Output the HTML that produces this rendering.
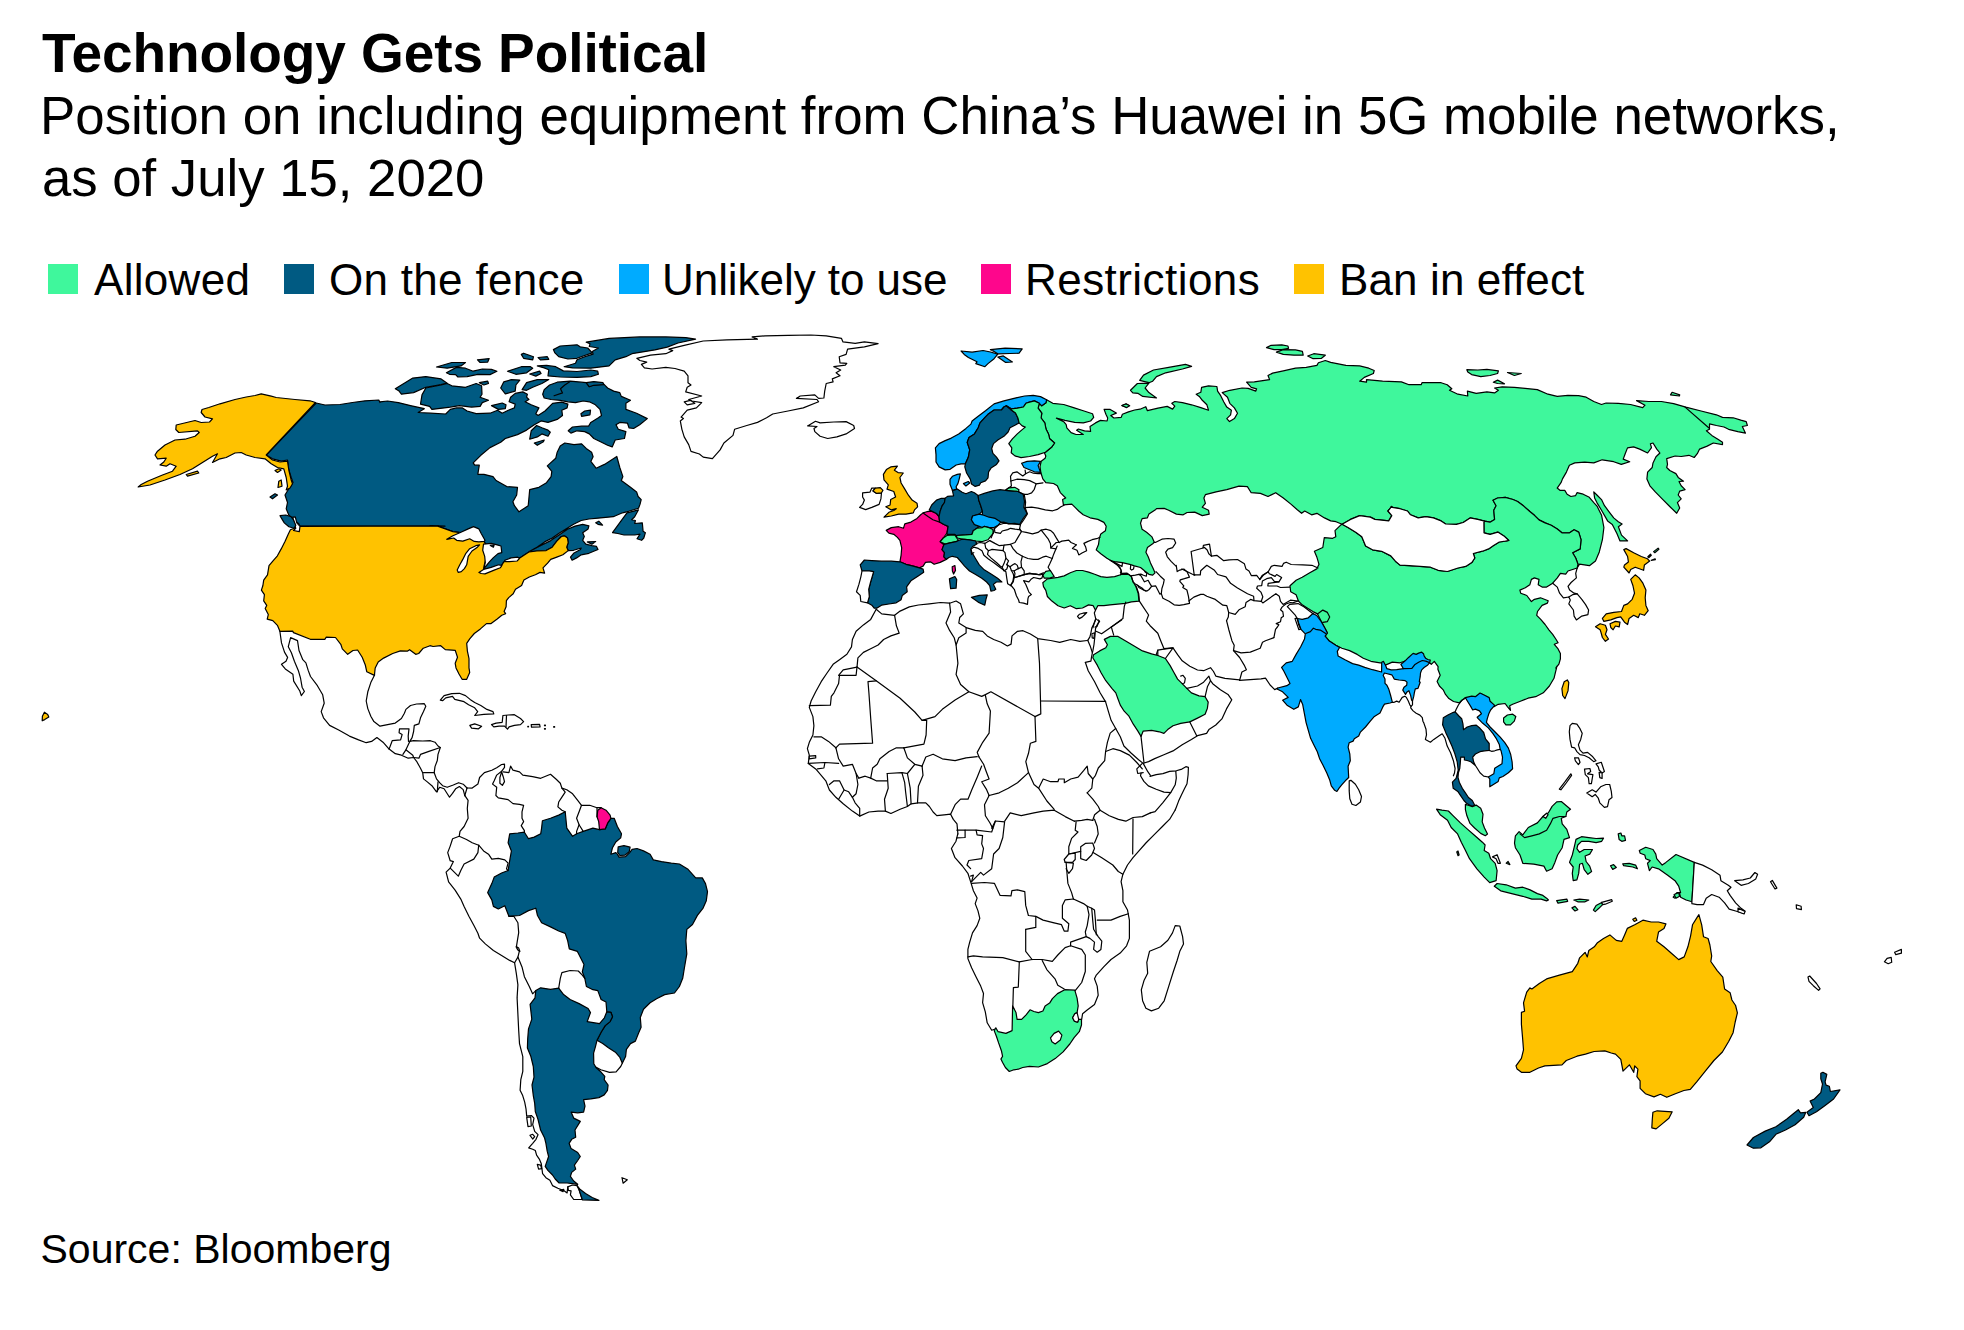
<!DOCTYPE html>
<html><head><meta charset="utf-8">
<style>
html,body{margin:0;padding:0;background:#fff;}
body{width:1964px;height:1330px;position:relative;overflow:hidden;font-family:"Liberation Sans",Arial,Helvetica,sans-serif;color:#000;}
.t{position:absolute;white-space:nowrap;line-height:1;}
#title{left:42px;top:26px;font-size:55px;font-weight:bold;letter-spacing:-0.08px;}
#sub1{left:40px;top:90px;font-size:52.85px;}
#sub2{left:42px;top:152px;font-size:52.7px;}
.lg{top:258px;font-size:44px;}
.sq{position:absolute;top:264px;width:30px;height:30px;}
#src{left:40.5px;top:1229px;font-size:41px;}
#map{position:absolute;left:0;top:0;}
</style></head><body>
<div class="t" id="title">Technology Gets Political</div>
<div class="t" id="sub1">Position on including equipment from China’s Huawei in 5G mobile networks,</div>
<div class="t" id="sub2">as of July 15, 2020</div>
<div class="sq" style="left:48px;background:#3ff79c"></div><div class="t lg" style="left:94px;letter-spacing:0.3px">Allowed</div>
<div class="sq" style="left:284px;background:#005a82"></div><div class="t lg" style="left:329px;letter-spacing:0.3px">On the fence</div>
<div class="sq" style="left:618.5px;background:#00abff"></div><div class="t lg" style="left:662px;letter-spacing:-0.05px">Unlikely to use</div>
<div class="sq" style="left:981px;background:#fe068c"></div><div class="t lg" style="left:1025px;letter-spacing:0.45px">Restrictions</div>
<div class="sq" style="left:1294px;background:#ffc200"></div><div class="t lg" style="left:1339px;letter-spacing:0.12px">Ban in effect</div>
<svg id="map" width="1964" height="1330" viewBox="0 0 1964 1330">
<!--MAP-->
<g stroke="#000" stroke-width="1.2" stroke-linejoin="round" stroke-linecap="round">
<!-- 01_namerica.txt -->
<path d="M316.2,403 325,405 340,404.5 352.5,402.5 365,400.8 378.8,400 380,402.5 380,401.8 387.6,401 398.3,402.6 410.5,405.6 424.3,408.7 418.2,412.5 430.4,413.2 445.7,414 450.3,409.4 456.4,407.9 462.5,407.9 467.1,411 476.2,413.7 490,413.2 497.6,410.2 502.2,413.2 508.3,410.2 514.4,407.9 515.2,404.1 509.1,401.8 510.6,397.2 515.2,393.4 522.8,391.9 527.4,394.2 526.6,397.2 528.9,399.5 525.1,401.8 531.2,404.8 538.9,407.9 535.8,413.7 538.1,415.5 545,411 549.6,406.4 552.6,403.3 561.8,402.1 567.9,404.1 567.1,407.9 561.8,410.2 562.5,415.5 557.2,419.4 548,422.4 541.1,420.9 534.3,424.7 526.6,430.1 517.5,434.6 505.3,438.5 500.7,442.3 490,447.6 480.8,455.3 473.2,462.9 474.7,465.2 479.3,465.2 477.8,474.3 483.9,474.3 493,476.6 496.1,480.5 506.8,486.6 517.5,487.3 516.7,495 512.9,501.8 514.4,505.7 519,511.8 528.2,505.7 529.7,489.6 538.9,487.3 546.5,482.7 551.1,476.6 551.8,471.3 547.3,465.9 555.7,458.3 557.2,452.2 560.2,446.1 564.8,443 574,444.6 581.6,443.8 586.2,448.4 591.6,452.2 593.1,456.8 590.8,461.4 596.1,468.2 604.5,464.4 616.8,456.5 619.8,467.5 622.9,476.6 621.3,480.5 630.5,487.3 636.6,491.9 638.1,496.5 641.2,499.6 640,504.4 638.5,508.3 628.6,511.3 622.5,512.8 613.3,516.7 598,518.2 588.9,519 581.2,520.5 573.6,524.3 565.9,528.9 559.8,532.7 552.2,538 544.6,541.9 536.9,547.2 529.3,551.5 540,546 550.7,540.6 559.8,534.5 567.5,529.2 575.1,526.1 582.7,524.3 588.9,525.8 588.1,528.9 582.7,532.7 584.3,536.5 582.7,540.3 585.8,544.2 591.9,545.7 596.5,546.4 598,549.5 588.9,553.3 581.2,554.8 576.6,557.9 572.1,560.2 570.5,557.1 573.6,553.3 580.5,549.5 581.2,548 573.6,550.3 568.2,550.6 566.7,547.2 568.2,542.6 567.5,538 564.4,535.8 561.4,536.5 556.8,541.1 552.2,547.2 546.1,550.6 536.9,551 529.3,551.8 524.7,554.8 519.4,558.2 512.5,559.7 504.8,561 503,563.2 501,566.3 491.1,570.1 483.8,568.9 484.2,565.5 486.5,556.4 488,547.2 484.7,542.6 483.5,540.3 472.8,535 460.5,532.7 452.9,531.6 445.3,528.9 437.6,526.1 430,525.5 445,526.2 300,526.2 298.8,523.8 293.8,520 288.8,515 286.2,508.8 287.5,502.5 285,495 288.8,488.8 293,482.5 291.2,477.5 288.8,470 287.5,460 281.2,461.2 272.5,458.8 266.2,455Z" fill="#005a82"/>
<path d="M290.4,529.8 299.6,526.3 438.6,526 437.6,526.1 445.3,528.9 452.9,531.6 460.5,532.7 472.8,535 483.5,540.3 484.7,542.6 488,547.2 486.5,556.4 484.2,565.5 483.8,568.9 491.1,570.1 501,566.3 503,563.2 504.8,561 512.5,559.7 519.4,558.2 524.7,554.8 529.3,551.8 536.9,551 546.1,550.6 552.2,547.2 556.8,541.1 561.4,536.5 564.4,535.8 567.5,538 568.2,542.6 566.7,547.2 568.2,550.6 562.9,554.8 556.8,557.1 550.7,559.4 547.6,563.2 543,567.8 544.6,573.2 540,572.4 535.4,574.7 529.3,577 523.9,580.1 521.6,585.4 515.5,589.2 513.2,593.8 508.7,597.6 506.4,600.7 506.1,606.8 504.1,611.4 505.6,613.7 501.8,615.2 497.2,619 491.1,623.6 486.5,623.6 480.4,628.9 474.3,633.5 469.7,638.9 466.7,643.4 467.4,651.1 469,658.7 469,667.9 469.7,672.5 466.7,679.3 462.1,679.3 459,674 456,667.9 455.2,663.3 457.5,657.2 455.2,650.3 445.3,649.6 440.7,645.7 433.1,646.5 430,645.7 423.3,648.2 418.7,653.5 415.7,654.3 409.6,649.7 407.3,651.2 400.4,650.9 392.7,653.5 383.6,658.1 378.2,661.9 375.2,668 374.4,675.4 366.8,671.8 365.3,665 362.2,657.3 357.6,650 353,650.5 347.7,654.3 342.3,648.9 340.8,644.3 335.5,637.5 326.3,637.2 324.8,639.3 310.3,639.3 293.5,632.6 292.7,631.1 280,631.4 277.4,625.3 272.8,620.7 267.2,619.1 268.3,614.6 265.2,608.5 266.7,605.4 263.7,600.8 264.4,594.7 261.4,590.1 262.9,585.5 263.7,580.2 267.5,574.8 269,565.7 272.8,561.1 277.4,555.8 281.2,548.9 285.1,541.2 288.1,534.4Z" fill="#ffc200"/>
<path d="M446.8,539.3 452.9,535.8 459.8,532.7 468.2,528.9 473.5,526.6 478.9,528.9 481.2,533.5 485,540.3 484.2,541.4 478.9,541.9 474.3,541.4 469.7,538.8 462.8,541.1 456.7,540.3 453.7,538Z" fill="#ffffff"/>
<path d="M479.6,544.9 475.8,545.7 469.7,548.7 465.9,553.3 462.8,559.4 459.8,564.8 457.2,570.1 458.3,572.4 461.3,571.6 464.4,568.6 466.7,564.8 468.2,556.4 472,551 477.4,547.2Z" fill="#ffffff"/>
<path d="M483.5,544.2 491.1,543.4 497.2,544.9 501,546 501.8,552.6 498,553.6 493.4,557.6 489.6,561.7 486.5,565.5 483.8,568.6 485.3,562.5 484.7,556.4 482.7,550.3Z" fill="#ffffff"/>
<path d="M490.3,545.4 494.2,544.9 493.4,547.2Z" fill="#005a82"/>
<path d="M478.9,572.4 483.5,569.4 491.1,567.4 498.7,564.8 501.8,565.5 500.3,567.8 494.2,570.1 485,573.9 481.2,573.5Z" fill="#ffffff"/>
<path d="M504.8,560.2 511,557.9 517.8,557.1 519.4,558.7 517.1,561 509.4,561.7 505.6,561.7Z" fill="#ffffff"/>
<path d="M587.3,541.9 595.7,541.6 591.9,544.2Z" fill="#005a82"/>
<path d="M595.7,522.8 598.8,521.2 602.6,525.1 598,524.3Z" fill="#005a82"/>
<path d="M612.5,532.7 620.9,521.2 627,512.8 638.5,509.8 634.7,516.7 631.6,519.7 635.4,520.5 634.7,523.5 642.3,522.8 643.1,531.2 645.4,532.7 643.8,538 641.6,540.3 637,538.8 640,534.2 634.7,535 624,535 617.9,533.5Z" fill="#005a82"/>
<path d="M292.7,517.1 295.3,516.8 296.8,522.9 300,526.3 299.3,531.6 293.5,530.5 295.8,528.3 294.2,522.9Z" fill="#ffffff"/>
<path d="M280,515.7 285.8,515 291.2,516.8 293.5,519.9 295.8,525.2 294.2,528.3 288.9,526.7 284.3,522.9 282,519.1Z" fill="#005a82"/>
<path d="M315.5,402.5 310,400.8 295,399.5 276.2,397.5 271.2,396.2 261.2,393.8 255,395.5 246.2,397 235,399.5 220,403.8 208.8,407.5 202,409.5 201.2,412.5 205,417 212.5,418.8 209.5,422 201.2,422.5 195,420.5 176.2,425 175.8,429.5 178.8,432.5 197.5,430.8 199.2,432.5 195,436.2 185,439.2 175,440 165,445 157.5,451.2 155,455 157.5,458.8 166.2,458.2 163.8,462 160,465 166.2,466.2 170,463.8 176.2,466.2 172.5,471.2 162.5,475 147.5,481.2 141.2,484.5 138.2,487 150,485 165,480 180,474.5 192.5,468.8 202.5,462.5 212.5,456.2 217.5,453.8 212.5,462.5 220,458.8 226.2,457.5 235,453 241.2,452.5 246.2,455 255,457.5 265,458.8 271.2,463.8 277.5,467.5 283.8,468.8 286.2,477.5 287.5,486.2 286.2,490 290,488 292.5,483.8 291.2,480 288.8,470 287.5,461.2 280,462 272.5,460 266.2,455Z" fill="#ffc200"/>
<path d="M186.2,474.5 197.5,471.2 198.8,473 187.5,476.2Z" fill="#ffc200"/>
<path d="M275,470.5 278.8,468.8 281.2,470 277.5,472.5Z" fill="#ffc200"/>
<path d="M278.8,481.2 281.2,480 282,486.2 278,487.5Z" fill="#ffc200"/>
<path d="M270,497 275,493.8 277.5,495 272.5,498.8Z" fill="#005a82"/>
<path d="M395.3,388.8 412.8,378.1 425.8,376.6 441.1,378.9 447.2,383.2 441.1,384.7 425.8,387.3 413.6,392.6 401.4,394.2 399.1,391.1Z" fill="#005a82"/>
<path d="M422,394.9 425.8,388 441.1,385 447.2,383.5 451.8,385.8 465.5,387.3 476.2,383.5 481.6,385.8 482,394.2 480.1,397.2 488.5,400.3 482.3,402.6 480.1,406.4 471.6,407.1 459.4,405.6 450.3,407.1 444.2,407.9 431.9,409.4 429.6,406.4 420.5,404.1Z" fill="#005a82"/>
<path d="M436.5,367 451.8,362.5 465.5,362.5 461,365.9 447.2,368.2Z" fill="#005a82"/>
<path d="M446.4,372.8 456.4,367.4 465.5,368.2 473.2,371.2 482.3,369 491.5,369.4 496.9,371.2 490,374.6 477.8,374.3 467.1,376.6 457.9,377 455.6,374.6 449.5,374.3Z" fill="#005a82"/>
<path d="M477.5,359.8 489.2,358.6 487.7,362.1 480.1,362.5Z" fill="#005a82"/>
<path d="M479.3,382.7 487.7,381.2 488.5,383.5 483.9,385Z" fill="#005a82"/>
<path d="M507.5,371.2 521.3,366.7 530.5,366.7 532.7,368.2 526.6,372.8 515.9,374.3Z" fill="#005a82"/>
<path d="M521.3,354.4 523.6,353.2 533.5,356.7 532.7,359.8 523.6,358.3Z" fill="#005a82"/>
<path d="M538.1,357.5 547.3,356.7 548.8,359.3 540.4,359.8Z" fill="#005a82"/>
<path d="M529.7,374 539.6,371.2 541.1,373.5 535.8,376.1Z" fill="#005a82"/>
<path d="M537.3,365.9 546.5,365.4 555.7,366.7 563.3,370.9 577,371.5 590.8,370 597.7,371.2 598.4,374.3 590.8,376.6 577,377.4 560.2,377 548,375.8 548.8,369.7 544.2,367.9Z" fill="#005a82"/>
<path d="M553.4,349.6 560.2,346 577,344.8 580.1,346.8 587.7,348 592.3,352.9 583.2,356 577,358.3 567.9,359 558.7,356.7 554.9,352.9Z" fill="#005a82"/>
<path d="M586.2,342.2 609.1,338.4 639.7,336.9 665.8,336.9 685.7,337.6 695.6,339.2 678,343 667.2,347.1 654.9,349.9 632,353.7 625.9,356.7 615.2,359.8 609.1,365.9 590.8,368.2 572.5,367.9 564.1,366.7 575.5,363.3 577,359.8 584.7,356.7 593.1,354.1 592.3,351.4 598.4,348 589.3,346.5 590,343.7Z" fill="#005a82"/>
<path d="M500.7,388 503.7,381.9 511.4,379.6 519.8,380.1 515.9,385 515.2,391.1 505.3,393.8Z" fill="#005a82"/>
<path d="M522.1,389.6 526.6,382.7 537.3,379.6 548.8,379.6 541.9,383.5 532.7,387.3 526.6,390.3Z" fill="#005a82"/>
<path d="M491.5,405.6 502.2,403 506,404.8 505.3,408.7 498.4,409.4Z" fill="#005a82"/>
<path d="M542.7,394.2 544.2,389.6 549.6,385 557.2,382.2 570.2,381.2 578.6,381.9 586.2,382.7 589.3,386.5 593.8,385 603.8,384.2 607.6,388 613.7,391.1 619.8,392.6 621.3,396.4 630.5,400.3 625.9,403.3 625.9,409.4 636.6,413.2 647.3,418.6 639.7,424.7 633.6,428.5 629,427.8 627.5,423.2 619.8,422.4 616,424.7 618.3,429.3 625.9,431.6 624.4,438.5 615.2,440 612.2,446.9 607.6,445.3 600,441.5 593.8,438.5 589.3,433.9 584.7,431.6 577,430.8 570.9,433.1 568.2,430.8 572.5,427 581.6,426.2 588.5,426.2 590.8,422.4 598.4,417.8 601.5,415.5 600,409.4 595.4,404.8 589.3,401.8 583.2,401 575.5,402.6 567.9,401.8 560.2,400.3 551.1,399.5 544.2,398Z" fill="#005a82"/>
<path d="M569.4,381.9 564.8,385 560.5,388.8 562.5,392.9 554.1,395.7" fill="none"/>
<path d="M586.2,382.7 593.8,381.6 603,382.7 603.8,384.7 593.8,385.3 589.3,386.8Z" fill="#005a82"/>
<path d="M580.9,413.7 584.7,411 590.5,410.2 590,414.8 581.6,416.3Z" fill="#005a82"/>
<path d="M529.7,439.2 531.2,430.8 536.6,425.5 541.9,427.8 548,430.1 550.3,432.3 548,436.2 541.9,433.9 537.3,436.9Z" fill="#005a82"/>
<path d="M534.3,443 544.2,440 543.4,441.8 537.3,445.3Z" fill="#005a82"/>
<!-- 02_greenland_mex.txt -->
<path d="M636.8,358.3 650.5,355.2 665.8,353.7 672.7,350.6 668.9,349.1 684.2,345.3 703.2,341 726.9,339.9 757.5,339.2 752.1,336.9 765.1,335.8 788,335.3 810.9,335 826.2,335.8 841.5,338.4 843,341.9 855.2,343.4 864.4,341.9 878.1,343.7 864.4,346.8 847.6,349.1 846.1,354.4 839.2,356.7 840,362.8 846.8,363.3 845.3,365.1 833.8,366.7 840.7,370 836.1,372.8 840,375.8 832.3,378.9 833.1,381.9 826.2,383.5 824.7,391.1 823.9,398 818.6,398.4 814.8,394.9 800.2,396 796.4,398.4 817,399.5 818.6,401.8 803.3,407.9 788,411 772.7,414 766.6,417.8 757.5,422.4 746.8,425.5 734.6,429.3 733,435.4 723.9,443 720.1,449.9 712.4,458.6 703.2,457.1 699.4,454 691,451.4 688.7,444.6 684.2,436.9 681.9,429.3 680.3,420.9 683.4,418.6 681.1,417.1 687.2,410.2 696.4,407.9 701.7,402.6 691.8,401 688.7,399.5 701.7,396 685.7,391.9 687.2,387.3 691,385 688,382.7 688,375.8 684.2,371.2 675,368.5 665.8,367.4 652.1,369 644.4,367.9 641.4,364.4 646.7,362.1 639.9,360.5Z" fill="#ffffff"/>
<path d="M684.2,401.8 690.3,400.3 694.8,403.3 687.2,404.8Z" fill="#ffffff"/>
<path d="M807.6,425.9 815.5,421.3 820.1,422.9 833.8,422 846.1,421.6 853.7,425.5 854.5,428.5 846.1,433.9 836.9,436.9 827.7,438.5 820.1,436.2 814.8,431.6 814,428.5 817,426.5Z" fill="#ffffff"/>
<path d="M279.9,631.5 281.5,642.9 284.5,652.1 287.6,657.4 286,661.2 281.5,664.3 285.3,668.9 292.9,674.2 293.7,681.1 299.8,691 301.3,695.6 304.4,691.5 302.1,687.2 300.5,678 298.3,670.4 294.4,661.2 291.4,652.8 288.3,646.7 290.6,637.6 297.5,640.6 299,650.5 302.8,659.7 305.9,662.8 308.2,670.4 310.5,676.5 317.4,685.7 322.7,694.8 324.2,703.2 321.2,711.6 323.5,717.8 329.6,725.4 338.7,730 349.4,736.1 358.6,739.9 366.2,742.7 371.6,741.4 376.9,737.6 383,742.2 389.1,749.1 395.3,753.7 401.4,755.2 408.2,758.2 413.6,757.5 416.6,761.3 420.5,768.2 422.7,772.7 423.5,778.9 427.3,781.9 431.9,785.7 436.5,791.8 439.6,787.3 444.1,788.8 449.5,797.2 452.5,793.4 455.6,788.8 459.4,786.5 463.2,789.6 464.8,795.7" fill="none"/>
<path d="M374.6,675 370.8,682.6 367.8,691.8 366.2,701 367.8,708.6 370.8,716.2 373.9,721.6 380,726.2 387.6,724.6 395.3,723.1 401.4,718.5 404.4,713.2 405.9,709.4 410.5,705.5 416.6,704 424.3,703.7 425.8,706.3 423.5,711.6 420.5,717.8 418.9,723.9 414.3,725.4 413.6,731.5 412.1,737.6 409.8,741.4 413.6,740.7 422.7,741 430.4,740.7 435,742.2 438,746 440.3,747.5 438,754.4 437.3,760.5 435,766.6 434.2,772.7 436.5,778.9 439.6,782.7 442.6,785.7 447.2,787.3 453.3,785 458.6,782.7 463.2,784.2 467,788" fill="none"/>
<path d="M389.1,749.1 392.2,740.7 400.6,739.9 402.1,734.6 399.1,732.7 399.5,728.8 409,728.8 408.2,736.1 408.5,741.4" fill="none"/>
<path d="M409.8,741.4 405.9,749.8 402.9,754.4" fill="none"/>
<path d="M405.9,749.8 412.8,755.2 413.6,757.5" fill="none"/>
<path d="M413.6,757.5 418.9,758.2 420.5,754.4 428.9,751.4 440.3,747.5" fill="none"/>
<path d="M423.5,772.7 434.2,772.7" fill="none"/>
<path d="M438,781.9 437.3,791.8" fill="none"/>
<path d="M464.8,795.7 467,788" fill="none"/>
<path d="M440.3,700.2 444.1,695.6 451.8,693.6 459.4,693.3 465.5,695.6 470.1,699.4 474.7,702.5 480.8,705.5 486.9,709.4 493,711.6 493.8,713.9 483.8,714.4 474.7,715.5 477.7,711.6 474.7,707.8 468.6,704.8 464,701.7 454.8,699.4 452.5,696.4 445.7,697.9 442.6,700.7Z" fill="#ffffff"/>
<path d="M491.5,724.6 496.1,723.1 502.2,722.3 502.9,715.5 508.3,715 514.4,714.7 520.5,718.5 523.6,721.6 520.5,724.6 514.4,725.4 509.1,726.9 507.5,729.2 504.5,726.2 499.1,726.2 493.8,726.9Z" fill="#ffffff"/>
<path d="M506.5,715.5 506,726.9" fill="none"/>
<path d="M469.8,725.4 474.7,723.9 481.6,726.2 478.5,728.8 471.6,728.1Z" fill="#ffffff"/>
<path d="M531.2,724.6 539.6,724.3 540.1,726.9 531.5,727.2Z" fill="#ffffff"/>
<path d="M527.8,726.3 528.5,726.3 528.5,726.8 527.8,726.8Z" fill="#ffffff"/>
<path d="M544.5,725.1 545.4,725.1 545.4,725.7 544.5,725.7Z" fill="#ffffff"/>
<path d="M544.5,728.5 545.4,728.5 545.4,729.1 544.5,729.1Z" fill="#ffffff"/>
<path d="M553.7,726.6 554.6,726.6 554.6,727.2 553.7,727.2Z" fill="#ffffff"/>
<!-- 03_samerica.txt -->
<path d="M610.9,818.3 614.2,818.3 617.4,826.5 621.5,833.8 620.7,837.9 615.8,842 612.5,847.7 610.9,854.2 615.8,852.6 617.4,854.2 619.1,857.1 625.6,856.7 629.7,852.6 632.1,849.3 637,848.5 643.5,850.9 650.1,854.2 653.3,859.9 661.5,861.6 671.3,863.2 679.4,864 687.6,868.9 695.7,877.9 702.3,877.9 705.5,883.6 707.5,891.7 706.3,900.7 703.1,908.1 697.4,915.4 692.5,924.5 686.8,929.4 685.9,940.8 686.8,953.8 684.3,968.5 682.7,978.3 679.4,986.5 674.5,993 664.7,994.6 656.6,998.7 650.1,1002.8 643.5,1009.3 640.3,1017.5 641.1,1027.3 638.6,1033 635.4,1041.1 630.5,1043.6 626.4,1049.3 625.6,1056.6 622.3,1063.2 619.9,1057.4 615.8,1052.6 608.4,1047.7 602.7,1043.6 597,1040.3 601.1,1032.2 605.2,1025.6 610.1,1021.6 612.5,1016.7 610.9,1012.3 606.8,1011.8 606,1002 601.1,999.5 597.8,990.6 592.9,989.7 586.4,986.5 584.8,978.3 582.3,971.8 584,964.4 580.7,957.9 577.4,951.4 569.3,948.9 567.7,940.8 565.2,933.4 558.7,931 550.5,926.9 541.6,922.8 537.5,915.5 535.8,908.2 528.5,910.6 519.5,915.5 508.9,916.3 504.8,905.7 498.3,909 493.4,906.4 491.8,899.9 487.7,892.6 491.8,883.6 494.2,877.1 501.6,873 508.1,870.5 509.7,860.7 511.4,850.9 508.1,842.8 509.7,833.8 517.9,833 524.4,832.2 528.5,838.7 534.2,837.1 540.7,833.8 541.6,828.1 542.4,820.8 550.5,818.3 558.7,815.1 565.2,811.8 566,819.9 566.8,828.1 572.6,836.3 576.6,833.8 583.2,831.4 592.9,828.1 599.5,829.7 605.2,828.9 607.6,823.2Z" fill="#005a82"/>
<path d="M618.2,846.9 623.9,845.7 630.1,847.2 629.2,851.8 624.8,855.2 619.9,855.5 617.7,852.3Z" fill="#005a82"/>
<path d="M597,816.7 597.8,810.2 601.1,807.7 606,810.2 610.1,815.1 610.9,818.3 607.6,823.2 605.2,828.9 599.5,829.7 598.7,821.6Z" fill="#fe068c"/>
<path d="M535.8,990.6 540.7,987.8 550.5,989.4 558.7,988.1 563.6,994.6 570.1,999.5 579.1,1003.6 588.1,1008.5 590.5,1012.6 587.2,1021.6 599.5,1023.7 604.4,1017.8 606.8,1011.8 610.9,1012.3 612.5,1016.7 610.1,1021.6 605.2,1025.6 601.1,1032.2 597,1040.3 595.4,1046.8 593.6,1053.2 593.8,1063.8 596.2,1067.8 600.8,1071.8 604.8,1076.4 604.2,1079.7 608.1,1085 607.5,1090.3 604.2,1094.9 598.9,1097.6 590.9,1098.9 583.6,1099.6 585,1106.2 583.6,1112.1 577.7,1112.8 571.1,1112.1 573.7,1118.1 580.3,1121.4 575,1130 575.7,1137.3 571.7,1139.3 569.1,1143.3 571.1,1148.6 577.7,1152.5 580.3,1156.5 577.7,1160.5 574.4,1165.1 575.7,1169.1 571.7,1172.4 570.4,1176.4 573.7,1181 577.7,1184.3 572.4,1183.6 567.1,1183 559.1,1183 555.2,1179 552.5,1175 547.9,1170.4 545.2,1166.4 548.6,1156.5 547.2,1151.2 545.9,1143.3 544.6,1138 540.6,1130 538,1119.4 535.3,1111.5 534.7,1103.5 533.3,1095.6 532,1085 534,1077.1 533.3,1066.5 530.7,1055.9 527.4,1047.9 527.7,1038.7 528.5,1028.9 531.8,1019.1 530.1,1004.4 535,997.9Z" fill="#005a82"/>
<path d="M567.8,1186.9 572.4,1185 577,1185.6 579,1189.6 582.3,1199.5 573.7,1199.5 570.4,1194.9 571.1,1190.9 568.4,1190.3Z" fill="#ffffff"/>
<path d="M577,1185.6 580.3,1189.6 585.6,1193.6 592.2,1197.5 598.9,1200.4 582.3,1199.8 579,1189.6Z" fill="#005a82"/>
<path d="M622.3,1063.2 620.7,1066.5 616.1,1071.8 609.5,1072.4 600.8,1069.8 596.2,1067.4" fill="none"/>
<path d="M526.7,1117.4 530.7,1116.8 531.3,1126 528,1126.7Z" fill="#ffffff"/>
<path d="M530,1135.3 532.7,1134.3 534.7,1136.6 532.7,1139Z" fill="#ffffff"/>
<path d="M537.3,1164.4 540.6,1165.1 541.7,1168.7 538.6,1169.1Z" fill="#ffffff"/>
<path d="M622,1177.7 627.3,1179.7 623.1,1183.2Z" fill="#ffffff"/>
<path d="M559.8,1190.3 563.8,1189.3 563.1,1191.6Z" fill="#ffffff"/>
<path d="M464.9,795.6 468.1,800.4 467.3,808.5 468.1,818.3 464.1,826.5 460,831.4 459.2,836.3 452.6,838.7 450.2,846.1 447.7,852.6 450.2,860.7 453.4,861.6 450.2,868.1 446.1,872.2 448.6,881.9 455.1,890.1 460.8,899.1 464.1,906.4 468.9,916.2 473.8,925.2 477.9,933.3 479.6,938.2 485.3,943.9 493.4,950.5 501.6,955.4 509.7,960.4 514.6,962.8 516.3,973.4 517.9,984.8 517.1,997.9 517.9,1014.2 518.7,1030.5 519.5,1043.6 522.8,1056.6 522.8,1071.3 520.8,1079.7 520.1,1090.3 522.7,1095.6 524.7,1102.2 526,1108.8 526.7,1116.1 531.3,1115.5 534,1118.1 532.7,1124.7 534.7,1131.3 538,1134.7 536,1139.3 532.7,1143.3 528.7,1147.9 532.7,1149.2 535.3,1150.5 536.6,1155.2 539.3,1159.1 541.3,1163.8 542.6,1173.7 545.9,1177.7 549.9,1180.3 552.5,1185.6 557.8,1188.3 564.4,1190.9 567.1,1192.9 567.8,1186.9" fill="none"/>
<path d="M467,788 472.2,788.1 477.9,784.1 479.6,777.5 484.4,772.6 491.8,770.2 496.7,767.7 501.6,764.5 504.5,764.1 504.5,767.4 501.6,771.3" fill="none"/>
<path d="M501.6,771.8 499.9,777.5 499.9,783.2 502.4,785.4 504.5,781.6 503.2,776.7Z" fill="#ffffff"/>
<path d="M503.2,771.8 508.9,772.6 510.6,766.1 513,770.2 519.5,771.8 522.8,775.1 532.6,776.7 540.7,778.3 550.5,774.3 556.2,779.2 560.3,783.2 561.9,788.1 566.8,789.8 572.6,793.8 578.3,801.2 581.5,805.3 589.7,805.3 597,807.7 601.1,807.7" fill="none"/>
<path d="M501.6,771.3 496.7,775.1 494.2,780.8 492.6,784.1 496.7,787.3 495.9,795.5 498.3,797.9 508.1,799.6 513,803.6 519.5,804.4 523.6,805.3 522,811.8 522,818.3 523.6,821.6 521.2,825.7 524.4,830.6 524.4,832.2" fill="none"/>
<path d="M459.2,836.3 466.5,839.5 472.2,842.8 478.7,845.2 483.6,850.9 488.5,854.2 491.8,859.1 498.3,858.3 504.8,859.9 508.1,863.2 506.5,868.9 508.1,870.5" fill="none"/>
<path d="M478.7,845.2 477.9,852.6 473.8,859.1 464.1,864 460.8,870.5 458.3,876.2 451,868.9 450.2,868.1" fill="none"/>
<path d="M561.9,788.1 565.2,792.2 561.9,797.1 558.7,802 557.9,806.9 561.9,810.2 565.2,811.8" fill="none"/>
<path d="M581.5,805.3 579.1,811.8 576.6,818.3 579.1,824.8 576.6,831.4 576.6,833.8" fill="none"/>
<path d="M579.1,824.8 583.2,831.4" fill="none"/>
<path d="M597,807.7 597,816.7" fill="none"/>
<path d="M508.9,916.3 513.8,916.3 517.9,922.8 518.7,932.6 517.1,942.4 516.3,947.3 519.5,950.6 517.9,957.1 514.6,962.8" fill="none"/>
<path d="M516.3,946.5 518.7,948.1 519.9,951.4 517.6,949.8Z" fill="#ffffff"/>
<path d="M517.9,957.1 522,966.9 524.4,976.7 529.3,986.5 532.6,993.8 535.8,990.6" fill="none"/>
<path d="M558.7,988.1 560.3,978.3 561.9,972.6 570.1,970.5 578.3,971 582.3,975.1 584.8,978.3" fill="none"/>
<!-- 04_europe_w.txt -->
<path d="M884,517.2 888.9,512.3 893.8,510.5 896.2,508.7 891.3,509.9 885.8,506.8 890.1,505 890.7,499.5 895.6,497 893.8,491.5 887,489.1 888.3,484.8 884,479.9 883.4,474.4 886.4,469.6 890.7,466.9 897.4,466.1 894.4,470.2 898,472.6 903.3,473 899.9,477.5 901.1,483 904.8,489.1 908.4,495.2 912.1,500.1 917,503.2 917.6,506.8 914.5,509.9 913.3,512.9 906,514.2 898.7,514.2 891.3,516Z" fill="#ffc200"/>
<path d="M859.6,507.4 862.6,504.4 864.4,500.1 862.6,497 862.6,492.8 869.9,492.2 871.8,488.1 875.4,488.1 873,490.9 876.7,493.4 881.5,492.8 880.9,498.9 879.1,504.4 871.8,507.4 865.7,509.6Z" fill="#ffffff"/>
<path d="M873,490.9 875.4,488.1 880.3,487.6 883,490.3 881.5,492.8 876.7,493.4Z" fill="#ffc200"/>
<path d="M886.2,530.4 891.3,527.6 898.7,526.7 903.5,528.2 904.8,523.9 910.9,522.1 917,518.4 920.7,514.8 923.1,512.9 926.8,511.7 931.7,511.1 936.5,513.5 939,516.6 939.6,522.1 943.9,524.5 948.1,526.4 946.9,533.1 945.1,535.5 943.3,538 940.2,541.7 943.9,544.7 942,549.6 944.5,552.6 943.9,556.9 946.3,559.4 940.2,562.4 934.1,564.3 930.4,561.8 925.5,562.4 923.1,566.1 919.4,567.9 913.3,566.1 906,564.3 899.9,561.8 901.1,555.1 901.7,547.8 899.9,540.4 897.4,537.4 893.8,534.3 888.9,533.1Z" fill="#fe068c"/>
<path d="M923.1,512.9 928,516.6 932.9,519.7 939.6,522.1" fill="none"/>
<path d="M929.2,509.9 931.7,505 936.5,500.1 941.4,498.3 945.1,498.3 944.5,502.5 942,506.2 940.2,511.1 939,516.6 936.5,513.5 931.7,511.1Z" fill="#005a82"/>
<path d="M945.1,498.3 947.5,496.4 953.6,495.8 952.4,490.3 957.3,489.1 962.2,492.2 965.9,493.7 971.4,491.5 974.4,492.8 978.1,495.5 978.7,500.1 980.5,505 982.4,511.1 979.3,514.2 972.6,516 971.4,519.7 974.4,524.5 979.3,526.4 976.9,528.2 973.2,530.7 972,534.3 965.9,534.9 956.1,535.5 954.9,534.3 946.9,534.3 948.1,526.4 943.9,524.5 939.6,522.1 939,516.6 940.2,511.1 942,506.2 944.5,502.5Z" fill="#005a82"/>
<path d="M952.4,490.3 950,484.2 950,479.3 952.4,476.3 957.3,474.4 960.4,473.8 959.1,479.3 957.9,483.6 956.1,486.7 956.7,489.1Z" fill="#00abff"/>
<path d="M963.4,483.6 968.3,481.5 969.8,483 965.9,486Z" fill="#00abff"/>
<path d="M978.1,495.5 984.2,493.4 992.8,490.9 1000.1,489.7 1005.6,490.3 1018.4,491.5 1023.3,494.6 1024.5,501.3 1023.9,507.4 1027,513.5 1023.3,518.4 1019.6,524.5 1014.7,523.3 1008.6,523.9 1003.7,522.1 1000.7,522.3 995.2,519 992.8,518.4 989.1,517.8 982.4,515.4 982.4,511.1 980.5,505 978.7,500.1Z" fill="#005a82"/>
<path d="M971.4,519.7 972.6,516 979.3,514.2 982.4,514.8 989.1,517.2 992.8,517.8 995.2,518.4 1000.7,522.1 998.2,525.2 994,527.6 989.1,527.6 984.2,526.4 982.4,527.6 979.3,526.4 974.4,524.5Z" fill="#00abff"/>
<path d="M956.1,535.5 965.9,534.9 972,534.3 973.2,530.7 976.9,528.2 982.4,527.6 984.2,526.4 989.1,527.6 992.8,529.4 993.4,533.1 990.3,536.8 987.9,539.8 981.8,541.7 975.6,541 969.5,539.8 962.2,539.2 957.3,538Z" fill="#3ff79c"/>
<path d="M940.2,541.7 943.3,538 946.9,535.5 954.9,534.9 956.7,538 958.5,540.4 956.1,541.7 950,542.9 945.1,544.1Z" fill="#3ff79c"/>
<path d="M943.9,544.7 945.1,544.1 950,542.9 956.1,541.7 958.5,540.4 962.2,539.2 969.5,539.8 975.6,541 976.9,544.1 972.6,546.5 970.8,549 972,552.6 975.6,558.8 979.3,564.9 984.2,569.8 990.3,573.4 997.6,578.3 1001.9,582 996.4,582 993.4,584.4 995.8,589.3 994,590.5 990.9,591.1 989.7,585.6 986.6,582 981.8,578.3 975.6,574.6 969.5,571 964.6,566.1 960.4,561.2 957.3,557.5 952.4,556.3 948.8,557.5 946.3,559.4 943.9,556.9 944.5,552.6 942,549.6Z" fill="#005a82"/>
<path d="M949.4,578.9 954.9,576.5 956.7,579.5 956.1,588.1 950.6,588.7Z" fill="#005a82"/>
<path d="M952.2,566.7 954.9,565.5 955.5,570.4 953.6,574 952.4,571Z" fill="#fe068c"/>
<path d="M971.4,597.3 979.3,595.4 987.3,594.8 986,599.1 984.8,605.2 978.1,602.1Z" fill="#005a82"/>
<path d="M860.2,564.9 864.4,560 871.8,560.6 881.5,561.2 891.3,561.2 899.9,561.8 906,564.3 913.3,566.1 919.4,567.9 923.1,569.1 923.7,572.2 918.2,575.9 910.9,580.8 906.6,586.9 907.2,591.8 902.3,595.4 901.1,599.7 896.2,602.8 888.9,604 881.5,605.2 876.7,608.2 874.2,608.2 871.8,605.2 867.5,602.8 869.3,596.6 868.7,589.3 870.6,582 872.4,575.9 873.6,571.6 869.3,571 862,571Z" fill="#005a82"/>
<path d="M862,571 869.3,571 873.6,571.6 872.4,575.9 870.6,582 868.7,589.3 869.3,596.6 867.5,602.8 860.8,601.5 860.2,595.4 856.5,591.8 858.9,584.4 860.8,577.1Z" fill="#ffffff"/>
<!-- 05_russia_china.txt -->
<path d="M1046.6,399.7 1052.8,403.3 1063.7,404.5 1073.5,407.6 1083.3,410.7 1092.5,413.7 1093.7,417.4 1090.6,421 1083.3,422.9 1074.7,422.3 1065,420.4 1056.4,418.2 1063.7,421.7 1066.2,424.7 1066.8,427.8 1071.1,432.6 1076,434.5 1083.3,434.5 1076.6,430.2 1078.4,429 1084.5,430.8 1090.6,431.4 1090,426.5 1095.5,422.9 1100.4,420.4 1107.1,421 1107.7,418 1105.9,414.3 1104.1,409.4 1110.2,409.4 1116.3,413.1 1110.8,415.5 1113.9,418 1121.2,417.4 1122.4,414.3 1128.5,411.9 1134.6,410 1140,409.2 1145.8,406.7 1147.4,410.7 1158,408.2 1167.2,406.4 1172.6,409.1 1174.8,406.1 1171.8,403.3 1174.8,401.5 1182.5,402.6 1191.6,404.8 1200.8,407.6 1208.5,410.2 1206.9,404.8 1202.3,400.3 1199.3,396.4 1196.2,394.2 1200.8,392.3 1201.6,387.3 1208.5,385.8 1216.9,386.5 1217.6,391.1 1220.7,395.7 1223.7,401.8 1226.8,407.1 1231.4,410.2 1230.6,414.8 1226.8,418.6 1229.5,421.6 1234.4,418.6 1237.5,413.2 1234.4,407.9 1229.8,403.3 1227.5,397.2 1222.2,392.6 1229.8,390.3 1242.1,388 1248.2,388.4 1255.8,391.1 1256.6,388.8 1251.2,387.3 1246.6,382.2 1254.3,381.9 1269.6,379.6 1268,375.5 1272.6,373.1 1283.3,370.9 1295.5,368.2 1306.2,367.4 1316.9,365.4 1318.4,362.8 1325.3,360.5 1330.7,362.4 1345.9,365.4 1359.7,365.9 1368.8,368.2 1374.2,370.5 1373.4,373.5 1364.3,377.4 1359.7,381.2 1366.5,382.2 1366.5,379.6 1382.6,381.2 1401.4,381.9 1409,384.7 1421.2,384.7 1422,382.7 1441.1,382.7 1447.2,384.7 1451.8,388.8 1449.5,390.3 1457.9,394.2 1467.8,396 1467.4,391.1 1476.2,393.4 1486.9,391.9 1494.6,392.9 1498.4,390.3 1494.6,388 1502.2,386.8 1514.4,387.3 1525.1,388.4 1537.3,389.6 1548,394.2 1557.2,396.4 1567.9,395.4 1578.6,395.7 1586.2,397.2 1593.8,401.5 1601.5,404.5 1606.1,403 1618.3,403.3 1630.5,404.5 1642.7,407.6 1645,405.2 1636.6,400.6 1648.8,401.5 1649.2,401.5 1661.4,401.5 1673.6,403.6 1685.8,407.1 1701.1,411 1716.4,414.8 1722.5,417.4 1733.2,417.8 1740.8,420.1 1746.2,421.6 1747.4,425.5 1742.3,426.5 1745.4,433.1 1737.8,431.6 1728.6,429.3 1724,427 1716.4,425.5 1709.5,423.9 1709.5,429.3 1706.4,430.8 1711.8,435.4 1717.9,439.2 1722.5,442.3 1722.5,444.6 1713.3,443 1707.2,446.1 1699.6,449.1 1697.3,453.7 1694.2,457.5 1688.9,455.3 1681.2,456.5 1675.1,456 1666.7,458.6 1667.5,464.4 1666.7,467.5 1669.8,470.5 1675.9,473.6 1678.2,477.4 1683.5,481.2 1679,481.5 1681.2,485.8 1685.1,489.6 1679.7,491.1 1678.2,495 1681.2,498.8 1677.4,502.6 1679.7,508 1676.7,513.3 1670.5,507.2 1662.9,499.6 1655.3,491.9 1649.9,485.8 1646.9,478.9 1647.6,472.1 1652.2,467.5 1653,462.9 1656,456.8 1659.9,453 1656.8,449.1 1653,443 1650.4,443.8 1651.5,447.6 1647.6,453 1639.7,449.1 1633.6,446.9 1627.5,447.9 1625.2,453.7 1623.2,459.1 1629.7,461.7 1621.3,464.4 1613.7,461.7 1602.2,459.8 1593.8,462.9 1584.7,462.1 1574.8,462.9 1569.4,465.2 1566.4,472.1 1562.5,478.9 1561,482.7 1557.2,488.1 1560.2,490.4 1564.8,490.4 1567.1,494.2 1570.9,496.5 1575.5,495.7 1577,492.7 1583.2,494.2 1589.3,497.3 1593.8,502.6 1597,506.1 1601.6,515.3 1603.9,527.5 1602.4,539.7 1599.3,551.9 1595.5,561.1 1589.4,565.7 1579.5,564.2 1577.2,568 1578,564.2 1575.7,558 1572.6,552.7 1580.2,548.9 1581,539.7 1578.7,532.1 1574.1,529.8 1569.6,532.8 1561.9,532.8 1557.3,529 1551.2,525.2 1545.1,522.9 1539,519.9 1534.4,515.3 1529.8,511.5 1523.7,506.1 1517.6,501.5 1513,499.5 1505.3,497.3 1497.6,498 1493,500.3 1496.1,505.7 1493.8,510.2 1494.6,519.4 1490,522.2 1484.6,521.2 1477.8,519.4 1470.1,517.9 1463.2,522.5 1456.4,524.3 1445.7,524 1441.1,520.9 1433.5,517.9 1425.8,516.7 1418.2,517.9 1410.5,514.8 1407.5,511 1399.9,508.7 1390.7,507.2 1391.8,506.4 1387.9,511 1391.8,515.6 1388.7,520.9 1374.9,519.4 1370.4,517.1 1359.7,515.6 1350.5,519.4 1342.1,524.3 1336,521.7 1330.7,520.9 1324.5,517.9 1316.9,513.3 1311.6,514.8 1304.7,511 1301.6,513.3 1297,509.5 1290.9,504.1 1283.3,498 1275.7,492.7 1268,496.5 1260.4,493.4 1251.2,492.7 1247.4,486.6 1239,486.1 1226.8,489.6 1216.1,491.9 1205.4,494.7 1203.9,498 1205.4,503.4 1202.3,507.2 1208.5,510.2 1209.2,514.1 1202.3,515.6 1194.7,512.1 1187.1,512.5 1183.2,514.8 1176.4,514.1 1168.7,510.2 1164.2,508.4 1156.5,508.7 1155.8,509.4 1148.9,514 1147.4,517.8 1142.1,518.6 1140.5,523.2 1142.1,529.3 1146.6,532.3 1152,536.9 1154.3,542.3 1152.7,543.8 1147.4,547.6 1145.9,552.2 1148.2,556.8 1150.5,562.9 1152.7,567.5 1155,572.8 1152.7,575.1 1148.9,574.3 1145.1,571.3 1140.5,567.5 1134.4,565.9 1129.8,564.4 1122.2,562.6 1114.6,561.7 1111.5,561.1 1106.9,558.3 1100.8,553.7 1096.2,549.9 1098.5,544.6 1099.3,538.5 1100.8,533.9 1105.4,530.8 1106.2,526.2 1103.9,522.4 1097.8,519.4 1090.1,517.8 1083.2,514.8 1078.7,511 1075.6,507.9 1071.8,504.1 1063.4,504.8 1062.6,499.5 1065.7,498 1060.3,492.6 1057.3,485.8 1053.5,483.5 1045.8,482.7 1042.8,478.9 1040.9,472.8 1040,466.7 1041.2,461.3 1045.1,458.3 1045.8,456 1044.6,453.2 1045.4,452.2 1051.5,447.3 1054.6,443 1049.7,438.8 1048.5,433.9 1046,429 1044.8,422.9 1041.1,418 1041.8,413.1 1038.1,408.2 1039.3,403.3 1041.8,405.8 1046,402.7Z" fill="#3ff79c"/>
<path d="M1685.1,407.1 1708.7,427.8" fill="none"/>
<path d="M1670.5,394.9 1672.1,392.3 1679.7,394.9 1679.4,396Z" fill="#3ff79c"/>
<path d="M1139.7,380.4 1143.5,375.1 1153.5,370 1168.7,367.4 1185.5,364.4 1191.6,366.4 1182.5,369 1165.7,372.8 1156.5,376.6 1152.7,381.2 1148.9,382.7Z" fill="#3ff79c"/>
<path d="M1130.5,390.3 1137.4,383.5 1148.9,383.2 1145.1,388 1148.9,392.6 1156.5,398 1142.8,396.4 1138.2,393.4 1132.8,392.9Z" fill="#3ff79c"/>
<path d="M1122.1,405.6 1126,404.1 1129,405.6 1126.7,407.1Z" fill="#3ff79c"/>
<path d="M1266.5,347.6 1271.1,345.3 1281.8,344.8 1287.9,346 1288.6,348.3 1281.8,349.6 1274.1,349.6Z" fill="#3ff79c"/>
<path d="M1276.4,352.1 1283.3,349.6 1295.5,349.9 1302.4,351.4 1303.2,355.2 1294,355.2 1283.3,354.4Z" fill="#3ff79c"/>
<path d="M1307.7,356 1313.8,353.7 1325.3,355.2 1321.5,358.3 1313.1,358.7Z" fill="#3ff79c"/>
<path d="M1466.8,369.7 1477.8,370 1486.9,369.4 1498.4,370.9 1497.6,373.5 1490,375.5 1480.8,376.6 1471.6,374.6 1467.8,372Z" fill="#3ff79c"/>
<path d="M1507.5,372.5 1521.3,373.5 1514.4,375.5Z" fill="#3ff79c"/>
<path d="M1493.3,382.2 1497.6,380.1 1504.5,383.8 1497.6,383.5Z" fill="#3ff79c"/>
<path d="M1593.8,491.9 1596.9,495 1601.5,499.6 1604.5,505.7 1609.1,511.8 1613.7,517.9 1618.3,521.7 1622.1,524 1618.4,526.7 1621.5,535.1 1627.6,540.9 1620,540.9 1616.9,533.6 1612.3,524.4 1607.6,520.9 1601.5,510.2 1596.9,502.6 1594.6,498Z" fill="#3ff79c"/>
<path d="M1121.8,405.5 1126.1,403.9 1129.7,405.8 1126.7,407.6Z" fill="#3ff79c"/>
<path d="M1005.6,490.3 1008.6,487.9 1014.7,487.3 1019,489.7 1018.4,491.5Z" fill="#3ff79c"/>
<path d="M1342.1,524.3 1348,527.6 1355.7,532.2 1361.8,536.8 1365.6,546 1372.5,549.8 1381.6,551.3 1390.8,555.9 1395.4,561.2 1400,565.1 1409.2,565.7 1419.9,566.4 1430.5,567.2 1438.2,570.3 1447.4,571.5 1458,568 1465.7,566.4 1471.8,562.6 1474.8,558 1473.3,553.5 1482.5,551.2 1488.6,548.9 1493.2,545.8 1499.3,542 1505.4,541.2 1508.8,540.5 1503.9,535.9 1497.8,532.1 1490.1,534.4 1484,532.8 1483.9,522.1 1484.6,521.2 1490,522.2 1494.6,519.4 1493.8,510.2 1496.1,505.7 1493,500.3 1497.6,498 1505.3,497.3 1513,499.5 1517.6,501.5 1523.7,506.1 1529.8,511.5 1534.4,515.3 1539,519.9 1545.1,522.9 1551.2,525.2 1557.3,529 1561.9,532.8 1569.6,532.8 1574.1,529.8 1578.7,532.1 1581,539.7 1580.2,548.9 1572.6,552.7 1575.7,558 1578,564.2 1577.2,568 1572.6,569.5 1568,571 1565.7,574.1 1560.4,573.3 1557.3,577.9 1552.7,583.2 1546.6,587.1 1542.1,587.1 1538.2,584.8 1539,579.4 1534.4,577.9 1531.4,579.4 1529.8,584.8 1525.3,587.8 1519.9,590.1 1520.7,593.2 1526.8,595.5 1531.4,601.6 1534.4,599.3 1540.5,597.8 1548.2,600.8 1547.4,603.1 1542.1,605.4 1537.5,611.5 1536.7,615.3 1540.5,619.1 1545.1,624.5 1548.9,629.8 1552.7,634.4 1555.8,639 1558.1,642.8 1554.3,644.3 1558.1,648.9 1560.4,653.5 1560.4,658.9 1558.9,664.2 1555.8,668 1557,666.1 1555.5,672.2 1554,678.3 1549.4,686 1543.3,692.8 1535.7,696.7 1528,698.2 1520.4,701.2 1512.7,704.3 1509.7,705.8 1510.5,710.4 1507.4,706.6 1505.1,703.5 1498.2,704.3 1494.4,706.6 1489.8,701.2 1486.8,696.7 1480.7,693.6 1476.1,696.7 1470,697.4 1465.4,698.2 1462.3,700 1459.3,702.8 1453.5,701.5 1448.9,698.6 1445.5,694.4 1443.2,689.8 1439.4,686 1437.1,681.4 1440.2,675.3 1437.9,669.2 1438.1,666.6 1434.3,661.3 1431.3,664.3 1427.5,661.3 1424.4,657.5 1421.3,655.2 1415.2,656.7 1410.7,658.2 1404.5,661.3 1400,662.8 1392.3,662.1 1385.4,665.1 1383.2,662.8 1380.1,662.8 1370.9,661.3 1363.3,658.2 1357.2,654.4 1349.6,650.6 1341.9,648.3 1335.8,645.3 1328.9,640.7 1325.1,636.1 1327.4,633 1325.1,628.5 1321.3,621.6 1317.5,613.9 1312.9,611.6 1306.8,607.8 1302.2,604.8 1298.4,601 1296.1,594.8 1290.7,591.8 1290,585.7 1296.1,580.3 1302.2,577.3 1309.8,572.7 1316.7,568.9 1319,564.3 1316.7,556.7 1314.4,551.3 1322.8,547.5 1324.3,537.6 1332.7,538.3 1335.8,536.8 1335,530.7 1340.4,525.3Z" fill="#3ff79c"/>
<path d="M1317.5,613.9 1322.8,610.1 1327.4,612.4 1329.7,617 1327.4,621.6 1322.8,622.3" fill="none"/>
<path d="M1503.6,718 1507.4,715 1512.7,714.2 1515.8,716.5 1514.3,721.1 1510.5,724.9 1505.9,724.9 1503.6,721.9Z" fill="#3ff79c"/>
<path d="M1342.1,524.3 1350.5,519.4 1359.7,515.6 1370.4,517.1 1374.9,519.4 1388.7,520.9 1391.8,515.6 1387.9,511 1391.8,506.4 1390.7,507.2 1399.9,508.7 1407.5,511 1410.5,514.8 1418.2,517.9 1425.8,516.7 1433.5,517.9 1441.1,520.9 1445.7,524 1456.4,524.3 1463.2,522.5 1470.1,517.9 1477.8,519.4 1484.6,521.2 1483.9,522.1 1484,532.8 1490.1,534.4 1497.8,532.1 1503.9,535.9 1508.8,540.5 1505.4,541.2 1499.3,542 1493.2,545.8 1488.6,548.9 1482.5,551.2 1473.3,553.5 1474.8,558 1471.8,562.6 1465.7,566.4 1458,568 1447.4,571.5 1438.2,570.3 1430.5,567.2 1419.9,566.4 1409.2,565.7 1400,565.1 1395.4,561.2 1390.8,555.9 1381.6,551.3 1372.5,549.8 1365.6,546 1361.8,536.8 1355.7,532.2 1348,527.6Z" fill="#ffffff"/>
<path d="M1552.7,583.2 1557.3,587.1 1559.6,593.2 1563.4,597.8 1568.8,597 1570.3,600.1 1568.8,603.9 1573.4,610 1574.1,616.1 1576.4,619.9 1581.8,616.1 1587.9,614.6 1588.6,610 1585.6,604.6 1581.8,599.3 1577.2,593.9 1574.1,593.2 1569.6,590.1 1568,586.3 1571.1,582.5 1576.4,577.9 1575.7,573.3 1577.2,568" fill="none"/>
<path d="M1568.8,597 1572.6,594.7 1577.2,593.9" fill="none"/>
<path d="M1623.8,549.6 1626.1,548.6 1633.7,552.7 1641.3,556.5 1647.5,558.8 1649.7,561.1 1644.4,564.9 1643.6,570.3 1635.2,567.2 1630.7,569.5 1629.1,573 1623.8,567.2 1624.5,564.9 1628.4,561.9 1627.6,556.5Z" fill="#ffc200"/>
<path d="M1635.2,574.8 1630.7,579.4 1632.9,585.5 1634.5,593.2 1632.2,599.3 1627.6,603.9 1623.8,605.4 1621.5,611.5 1613.8,612.3 1606.2,613.8 1602.4,618.4 1603.9,621.4 1610.8,619.9 1616.9,617.6 1620.7,616.9 1624.5,622.2 1627.6,624.5 1629.1,618.4 1633.7,615.3 1638.3,617.6 1639.8,613.8 1644.4,615.3 1648.2,610.7 1645.9,605.4 1645.2,597.8 1645.9,590.1 1642.9,583.2 1639.1,577.9Z" fill="#ffc200"/>
<path d="M1595.5,626.8 1600.1,623.7 1605.4,625.3 1607,629.8 1605.4,634.4 1608.5,639 1605.4,641.3 1602.4,637.5 1600.9,632.1 1600.1,629.8Z" fill="#ffc200"/>
<path d="M1610,623.7 1615.4,621.4 1620,622.2 1619.2,626.8 1615.4,626 1613.1,629.8 1610.8,627.5Z" fill="#ffc200"/>
<path d="M1647.8,556.8 1650.5,554.2 1651.3,555.3 1648.7,557.7Z" fill="#3ff79c"/>
<path d="M1653.6,551.6 1658.1,548.1 1658.9,549.2 1654.8,552.7Z" fill="#3ff79c"/>
<path d="M1651.3,560.3 1655.1,558.8 1655.4,559.6Z" fill="#3ff79c"/>
<path d="M1561.9,688.6 1564.2,681.8 1567.3,679.9 1568.8,682.5 1568,690.9 1565,698.6 1562.7,695.5Z" fill="#ffc200"/>
<!-- 06_scand.txt -->
<path d="M961.1,351 972.1,352.2 983.1,350.5 990.4,352 997.8,354.2 994.1,358.7 988,363.6 984.9,366.7 975.8,363.6 977,361.8 968.4,357.5 964.2,354.4Z" fill="#00abff"/>
<path d="M990.4,349.6 1005.1,348.1 1022.2,348.9 1019.1,353.2 1010,353.5 997.8,353.8 994.1,351.4Z" fill="#00abff"/>
<path d="M997.8,357.1 1003.3,355.9 1012.4,362 1005.7,362.4Z" fill="#00abff"/>
<path d="M936,462 936,454.6 935.4,447.9 939.1,443.6 945.2,440.6 951.3,438.1 958.7,433.9 966,428.4 970.9,424.1 972.1,421 978.2,416.2 985.5,410.7 994.1,403.9 1003.9,400.9 1016.1,397.8 1024.6,396 1033.2,395.4 1040.5,396.6 1046.6,399.7 1046,402.7 1041.8,405.8 1039.3,403.3 1034.4,400.9 1029.5,402.1 1025.9,403.3 1023.4,407 1017.3,408.2 1011.2,408.8 1006.3,405.8 1003.9,407 1001.4,410 994.1,410 988,414.3 985.5,416.8 980,422.9 978.2,427.8 974.5,433.9 969,437.5 967.2,442.4 969.7,449.8 968.4,457.1 965.4,463.8 961.1,463.8 956.2,465 950.1,469.3 945.2,469.9 939.1,466.9Z" fill="#00abff"/>
<path d="M1003.9,407 1006.3,405.8 1010.6,409.4 1015.5,413.1 1017.9,418 1019.1,422.9 1014.9,425.3 1010,427.8 1008.1,432 1003.9,436.3 997.8,440 993.5,443.6 991.7,448.5 992.9,453.4 996.5,457.1 999,460.8 996.5,464.4 991,468.1 988.6,471.8 988,477.9 985.5,480.9 980.7,482.8 979.4,485.2 975.2,486.4 971.5,484 970.3,479.1 966.6,473 964.8,466.9 965.4,463.8 968.4,457.1 969.7,449.8 967.2,442.4 969,437.5 974.5,433.9 978.2,427.8 980,422.9 985.5,416.8 988,414.3 994.1,410 1001.4,410Z" fill="#005a82"/>
<path d="M1006.3,405.8 1011.2,408.8 1017.3,408.2 1023.4,407 1025.9,403.3 1029.5,402.1 1034.4,400.9 1039.3,403.3 1038.1,408.2 1041.8,413.1 1041.1,418 1044.8,422.9 1046,429 1048.5,433.9 1049.7,438.8 1054.6,443 1051.5,447.3 1045.4,452.2 1038.1,454.6 1029.5,456.5 1021,457.7 1014.9,455.9 1011.2,452.8 1011.8,447.9 1008.8,443.6 1012.4,438.8 1017.3,433.9 1022.2,429.6 1025.3,427.1 1022.2,425.9 1019.1,422.9 1017.9,418 1015.5,413.1 1010.6,409.4Z" fill="#3ff79c"/>
<path d="M1021.6,463.2 1027.1,461.4 1034.4,460.8 1040.5,461.4 1038.1,465.6 1040.5,472.4 1034.4,471.8 1028.3,469.3 1024,467.5Z" fill="#00abff"/>
<!-- 07_sasia.txt -->
<path d="M1297.6,618.5 1302.2,619.3 1308.3,617.8 1312.9,613.5 1316.7,615.5 1321.3,621.6 1325.1,628.5 1327.4,633 1325.1,636.1 1328.9,640.7 1335.8,645.3 1339.6,647.5 1337.3,651.4 1338.1,655.9 1345,659.8 1352.6,663.6 1358.7,665.1 1364.8,667.4 1372.5,669.7 1381.6,672 1381.7,662.3 1383.5,661.4 1385.7,665.7 1386.9,668.7 1391.2,669.9 1396.7,669.6 1403.4,668.7 1400.9,664.4 1402.2,663.2 1405.2,660.8 1408.3,657.7 1413.1,653.4 1416.2,654.4 1418.6,653.1 1421.7,652.2 1423.5,653.7 1424.1,655.9 1425.7,658.3 1427.8,659.5 1430.3,660.2 1429.6,662.6 1427.8,665 1424.1,667.5 1421.7,669.9 1420.5,673 1420.2,676.7 1419.3,681.5 1420.2,682.2 1418,688.3 1415.3,688.9 1414.4,692.5 1413.8,696.2 1412.5,701.1 1411.6,700.2 1410.7,695.6 1408.9,690.7 1407,691.9 1405.5,694.4 1402.8,690.1 1404,687.3 1406.7,685.2 1407,682.2 1405.2,680.6 1399.1,680 1394.2,679.1 1393,676.7 1391.8,674.8 1384.4,673 1383.2,675.4 1385,679.1 1385,683.4 1386.9,685.2 1388.7,688.9 1390.5,695 1392.4,702.3 1390.1,703 1384.5,704.1 1382.8,706.9 1380,713 1374.4,716.4 1370.5,720.9 1365.5,727 1360.4,732.1 1358.7,736 1354.3,738.8 1353.1,741.1 1349.2,742.7 1348.1,747.2 1349.8,753.9 1350.3,760.7 1348.1,766.3 1348.7,777.5 1346.4,779.7 1341.9,784.7 1339.1,788.1 1336.9,791.5 1334.7,790.3 1331.3,785.9 1329.6,779.7 1326.8,773 1322.9,765.1 1319.5,758.4 1317.3,751.7 1313.9,745 1310.6,738.3 1308.3,730.4 1306.1,722.6 1304.4,713.6 1302.7,704.6 1300.5,699.6 1298.3,706.9 1293.8,709.3 1287,705.2 1282.6,700.2 1288.2,697.4 1282.6,691.8 1277,689 1277.8,688 1286.9,685.7 1290,683.4 1286.9,677.3 1283.9,671.2 1281.6,667.4 1286.2,662.8 1292.3,661.3 1296.1,654.4 1300.7,646.8 1304.5,639.1 1305.3,633.8 1300.7,629.2 1298.4,623.9Z" fill="#00abff"/>
<path d="M1349.2,780.8 1350.9,780.3 1355.4,784.2 1358.7,789.8 1361.5,796.5 1360.4,802.1 1355.9,805.5 1352,804.3 1349.8,798.7 1349.2,790.9Z" fill="#ffffff"/>
<path d="M1392.4,702.3 1394.2,702.3 1396.7,701.1 1399.1,702.3 1402.2,697.4 1404.9,696.2 1406.4,697.4 1408.3,701.1 1409.8,704.8 1411,706.3 1410.7,707.8 1413.1,710.9 1416.2,713.3 1419.9,715.1 1422.3,717.6 1422.9,721.2 1423.7,722.6 1426,729.3 1426.5,734.9 1425.4,739.4 1430.4,742.2 1433.8,739.4 1438.8,736 1442.2,733.8 1445,738.3 1447.2,746.1 1450.6,752.8 1453.4,760.7 1455.1,768.5 1454.5,773 1453.4,775.8" fill="none"/>
<path d="M1412.5,701.1 1412.5,704.8 1411,706.3" fill="none"/>
<path d="M1403.4,668.7 1411.9,668.4 1415,664.4 1418.6,662.3 1422.3,660.5 1425.7,661.1 1429.6,662.6" fill="none"/>
<path d="M1465.3,697.6 1471.7,696.2 1475.4,696.7 1480,693 1484.6,695.3 1489.2,697.6 1490.1,701.3 1494.7,705.4 1490.6,710 1488.7,714.1 1487.3,718.7 1486.4,722.4 1490.1,727 1495.6,732.5 1500.2,737.1 1504.8,742.6 1508.4,748.1 1510.7,754.5 1512.1,761.8 1512.6,768.7 1508.4,772.8 1502.9,776.5 1499.3,777.9 1498.2,781.4 1489.8,786.8 1489.8,779.1 1488.3,777 1493.8,773.8 1494.7,768.3 1502,763.7 1502.5,757.2 1501.1,750.8 1500.2,749.4 1499.3,744.4 1496.5,738.9 1492.8,733.4 1488.3,727.9 1482.8,723.3 1478.2,718.7 1477.2,717.3 1481.4,713.7 1479.5,710.9 1475.4,709.1 1472.7,710 1470.4,705.9 1468.1,702.2Z" fill="#00abff"/>
<path d="M1443.3,717.8 1447.9,715 1453.4,712.3 1455.2,711.8 1458.9,716 1461.7,718.7 1463,724.2 1463.5,729.7 1467.2,727 1471.7,725.6 1476.3,725.1 1480,728.3 1483.7,732.5 1485.5,738.9 1489.2,743.5 1489.2,750.4 1484.6,750.8 1480,751.7 1475.4,754 1472.7,757.2 1473.6,761.8 1475.4,765.5 1470.8,761.8 1467.2,760.5 1464.4,760 1464.4,757.2 1460.7,757.2 1460.3,762.8 1459.8,768.3 1458.4,772.8 1458,777.4 1459.3,782.2 1462.3,788.3 1465.4,792.9 1468.5,797.5 1472.3,800.5 1474.6,805.1 1472.3,806.6 1466.9,803.6 1463.9,800.5 1460.8,795.9 1457.8,791.4 1453.2,788.3 1452.4,782.2 1456.1,778.3 1458.2,770.1 1457.2,761.8 1454.8,753.6 1452,746.2 1449,739.4 1445.9,732.9 1442.6,724.7Z" fill="#005a82"/>
<path d="M1455.2,711.8 1456.1,709.5 1458.4,705 1461.7,700.4 1465.3,697.6" fill="none"/>
<path d="M1489.2,750.4 1491.5,751.3 1494.7,750.8 1497.4,749.9 1500.2,749.4" fill="none"/>
<path d="M1475.4,765.5 1477.2,768.3 1480,772.8 1483.7,776.1 1488.3,777" fill="none"/>
<path d="M1465.4,804.3 1472.3,806.6 1476.1,805.1 1480.7,808.2 1483,814.3 1482.2,821.9 1484.5,828 1487.5,834.1 1485.3,835.7 1480.7,833.4 1474.6,828 1470,823.4 1466.9,815.8 1465.4,809.7Z" fill="#3ff79c"/>
<path d="M1570,725.7 1572.3,723.4 1576.9,724.2 1580,728.7 1582.2,733.3 1580.7,739.4 1578.4,744.8 1580,750.1 1583,753.2 1587.6,752.4 1592.2,756.2 1596,760.8 1593.7,761.6 1589.1,757.8 1584.5,755.5 1580,754.7 1576.9,751.6 1574.6,747.8 1571.6,747.1 1570,739.4 1569.3,731.8Z" fill="#ffffff"/>
<path d="M1574.6,757.8 1578.4,757.8 1580,762.3 1578.4,764.6 1575.4,760.8Z" fill="#ffffff"/>
<path d="M1596,763.9 1601.3,762.3 1604.4,771.5 1602.1,773 1599.1,770 1598.3,766.9Z" fill="#ffffff"/>
<path d="M1599.1,772.3 1602.1,773 1602.1,778.4 1599.8,777.6Z" fill="#ffffff"/>
<path d="M1584.5,769.2 1589.9,768.5 1590.7,771.5 1587.6,773.8 1592.9,774.6 1591.4,783.7 1589.1,783.7 1588.4,777.6 1585.3,774.6Z" fill="#ffffff"/>
<path d="M1559.3,789.1 1564.7,782.2 1570.8,773.8 1571.6,775.3 1566.2,783 1560.9,789.8Z" fill="#ffffff"/>
<path d="M1586.8,792.9 1592.2,789.8 1596,792.1 1600.6,786.8 1605.9,784.5 1609.7,784.5 1611.3,791.4 1612,797.5 1609,799.8 1607.5,806.6 1604.4,807.4 1599.8,802.8 1598.3,798.2 1595.2,794.4 1592.2,796.7Z" fill="#ffffff"/>
<path d="M1436.5,809.2 1442,810.1 1448.4,811 1453,815.6 1460.4,822.9 1467.7,829.4 1475,835.8 1482.4,842.2 1485.1,845 1484.2,850.5 1488.8,853.2 1490.6,858.7 1495.2,863.3 1497.1,870.6 1496.1,880.7 1489.7,882.6 1484.2,877.1 1476.9,868.8 1469.5,858.7 1465,849.5 1461.3,842.2 1457.6,833.9 1451.2,827.5 1447.5,820.2 1440.2,814.7Z" fill="#3ff79c"/>
<path d="M1514.5,843.1 1515.4,835.8 1519.1,831.6 1522.8,834.9 1528.3,827.5 1537.4,822.9 1542.9,816.5 1548.4,812.8 1552.1,806.4 1556.7,801.8 1561.3,801.5 1570.5,809.2 1566.8,811.9 1565.9,816.5 1561.3,818.3 1562.2,823.9 1566.8,829.4 1569.5,837.6 1564,839.4 1562.2,847.7 1557.6,855 1554.9,862.4 1552.1,868.8 1546.6,871.2 1543.9,866.1 1533.8,864.2 1522.8,863.3 1520,855 1515.4,847.7Z" fill="#3ff79c"/>
<path d="M1520,833.9 1524.6,837.6 1531.9,835.8 1539.3,833.9 1546.6,830.3 1550.3,823.9 1553,818.3 1559.4,816.5 1565.9,816.5" fill="none"/>
<path d="M1542.9,816.5 1546.6,813.2 1548.1,814.7 1545.7,818.3Z" fill="#ffffff"/>
<path d="M1576,839.4 1581.5,836.7 1588.8,837.6 1596.1,838.5 1603.5,838.2 1601.7,841.3 1596.1,842.6 1588.8,841.3 1581.5,841.3 1577.8,845 1576.9,848.6 1579.6,852.3 1584.2,849.5 1592.5,849.5 1589.7,854.1 1585.1,856 1586.1,861.5 1589.7,866.1 1591.6,871.6 1587.9,874.3 1584.2,869.7 1582.4,863.3 1579.6,864.2 1578.7,873.4 1576.9,879.8 1573.2,880.7 1572.3,873.4 1573.2,867 1569.5,862.4 1572.3,855 1574.1,847.7Z" fill="#3ff79c"/>
<path d="M1618.2,833.9 1620.9,833 1621.8,835.8 1624.6,835.8 1625.5,840.4 1621.8,841.3 1619.1,839.4Z" fill="#3ff79c"/>
<path d="M1494.3,886.2 1497.1,883.5 1506.2,884.8 1515.4,888.1 1522.8,887.2 1530.1,889.9 1537.4,893.6 1542.9,895.4 1546.6,898.2 1548.4,900 1546.6,900.9 1541.1,899.1 1531.9,899.1 1522.8,896.3 1511.7,893.6 1500.7,890.8Z" fill="#3ff79c"/>
<path d="M1556.7,900.6 1566.8,899.1 1567.7,901.3 1558,903.1Z" fill="#3ff79c"/>
<path d="M1573.8,900 1579.6,899.1 1588.8,900 1585.1,901.8 1577.8,901.8Z" fill="#3ff79c"/>
<path d="M1571.9,907.9 1575,906.4 1577.8,909.7 1575,911Z" fill="#3ff79c"/>
<path d="M1593.4,910.1 1596.1,905.5 1601.7,902.4 1602.6,904.6 1598.9,908.3 1595.2,911.6Z" fill="#3ff79c"/>
<path d="M1601.7,902.4 1611.7,899.6 1612.3,901.3 1605.3,904.2 1602.6,904.6Z" fill="#ffffff"/>
<path d="M1622.8,863.9 1629.2,863.3 1635.6,865.1 1637.4,868.8 1632.8,867 1623.7,865.7Z" fill="#3ff79c"/>
<path d="M1610.5,865.7 1613.6,864.6 1616.3,867.5 1612.7,869.4Z" fill="#3ff79c"/>
<path d="M1506.2,863.3 1508.1,861.5 1509.9,864.6Z" fill="#3ff79c"/>
<path d="M1492.5,856.9 1497.1,854.7 1500.4,863.3 1498,863.3 1496.1,858.7Z" fill="#ffffff"/>
<path d="M1456.7,851.9 1458,851 1459.1,855 1458,855.6Z" fill="#3ff79c"/>
<path d="M1639.3,850.5 1645.7,847.3 1653,849.5 1655.8,854.1 1656.7,858.7 1662.2,865.1 1665.9,862.4 1676,854.5 1694.3,862.4 1691.9,901.8 1686.1,900 1680.6,897.2 1679.6,893.6 1675,898.2 1673.2,897.2 1676.9,892.7 1680.6,892.7 1678.7,886.2 1675,880.7 1667.7,875.2 1658.5,868.8 1652.1,867 1649.4,870.6 1647.5,863.3 1650.3,860.6 1645.7,858.7 1644.8,855 1640.2,853.2Z" fill="#3ff79c"/>
<path d="M1694.3,862.4 1702.6,865.1 1711.7,869.7 1720,875.2 1720.9,880.7 1728.3,885.3 1731,887.2 1727.3,890.8 1730.1,895.4 1735.6,902.8 1741.1,908.3 1744.8,911 1743.9,913.4 1735.6,911 1729.2,909.2 1724.6,902.8 1719.1,897.2 1711.7,894.5 1706.2,898.2 1703.5,904.6 1697.1,904.6 1691.9,903.7 1691.9,901.8Z" fill="#ffffff"/>
<path d="M1734.7,880.7 1742.9,879.8 1750.3,878 1754.9,872.5 1757.6,874.3 1755.8,878.9 1748.4,883.5 1741.1,885.3Z" fill="#ffffff"/>
<path d="M1770.5,881.7 1772.3,880.4 1776.9,888.1 1775,889Z" fill="#ffffff"/>
<path d="M1674.1,894.5 1678.7,892.7 1679.6,896.3 1676,898.2Z" fill="#3ff79c"/>
<path d="M1530.1,988.1 1531.9,989 1539.3,983.5 1546.6,978.9 1559.4,975.2 1572.3,971.6 1577.8,963.3 1579.6,957.8 1585.1,952.3 1587.3,956.9 1588.8,950.5 1594.3,946.8 1597.1,943.1 1603.5,938.5 1609.9,934.9 1616.3,940.4 1621.8,941.3 1624.6,934.9 1627.3,928.4 1634.7,924.8 1642.9,920.2 1651.2,922 1658.5,922 1665.9,923.9 1664,928.4 1658.5,932.1 1656.7,941.3 1664,946.8 1671.4,953.2 1678.7,959.6 1684.2,956.9 1687.9,946.8 1690.6,935.8 1692.5,924.8 1697.1,917.4 1698.9,914.7 1701.7,924.8 1703.5,936.7 1708.1,938.5 1709.9,945 1711.7,956 1710.8,961.5 1717.2,970.6 1722.8,977.1 1724.6,989 1730.1,992.7 1731.9,1000 1735.6,1005.5 1737.4,1012.8 1735.2,1022 1733.1,1032.7 1728.8,1041.3 1722.4,1052 1713.9,1060.5 1705.3,1071.2 1696.7,1081.9 1690.3,1089.4 1683.9,1090.5 1675.4,1093.7 1666.8,1097.3 1660.4,1094.3 1654,1096.9 1645.4,1093.7 1640.1,1088.3 1640.1,1080.8 1636.9,1076.6 1637.9,1069.1 1634.7,1065.9 1633.7,1072.3 1629.4,1064.8 1623,1071.2 1620.8,1059.4 1615.5,1054.1 1611.2,1053 1604.8,1050.9 1594.1,1051.5 1585.5,1054.1 1577,1056.2 1566.3,1060.5 1562,1064.8 1544.9,1065.9 1538.5,1068 1529.9,1072.3 1521.4,1072.3 1517.1,1069.1 1516,1065.9 1521.4,1058.4 1523.5,1049.8 1522.5,1037 1521.4,1024.2 1521.4,1012.4 1524.6,1011.3 1523.5,1002.8 1526.7,992.1 1529.9,987.8Z" fill="#ffc200"/>
<path d="M1632.8,919.3 1635.6,917.8 1636.9,920.2 1634.3,921.5Z" fill="#ffc200"/>
<path d="M1652.9,1112.3 1657.2,1110.8 1672.2,1111.8 1668.9,1118.3 1662.5,1123.6 1656.1,1128.9 1651.8,1127.9 1652.3,1119.3Z" fill="#ffc200"/>
<path d="M1820.8,1073.3 1822.9,1072.3 1826.8,1074.4 1825.1,1081.9 1826.1,1085.1 1829.3,1086.2 1830.4,1091.5 1840,1089.8 1833.6,1099 1825.1,1105.4 1816.5,1111.8 1809,1115.7 1806.9,1112.3 1813.3,1107.6 1810.1,1101.1 1814.4,1099 1820.8,1092.6 1822.5,1084 1820.8,1078.7Z" fill="#005a82"/>
<path d="M1747,1145 1753.4,1137.5 1765.2,1131.1 1775.9,1126.8 1786.6,1119.3 1793,1114 1798.3,1109.7 1800.5,1112.9 1805.8,1112.3 1803.7,1117.2 1795.1,1124.7 1785.5,1130 1775.9,1134.3 1769.5,1141.8 1760.9,1147.8 1753.4,1148.2Z" fill="#005a82"/>
<path d="M1808,977.1 1809.7,976 1816.5,983.5 1820.1,988.9 1818.6,990.4 1813.3,985.7 1809,981.4Z" fill="#ffffff"/>
<!-- 08_africa.txt -->
<path d="M876.2,609.3 870.7,619.4 863.4,624.9 856.1,631.3 852.4,639.5 851.5,646.9 846.9,654.2 839.5,659.7 833.1,664.3 826.7,673.5 821.2,681.7 815.7,691.8 811.1,701 809.3,707.4 812.9,716.6 813.9,725.8 812.9,735 809.3,742.3 807.4,748.7 809.3,755.1 808.3,763.4 815.7,768.9 821.2,775.3 825.8,780.8 829.4,790 835.9,797.3 843.2,803.8 852.4,811.1 859.7,816.1 868.9,812 878.1,811.1 885.4,811.1 890.9,813.5 900.1,809.3 907.4,806.5 911.1,803.8 918.4,802.8 925.8,802.8 929.4,806.5 933.1,812 936.8,815.7 944.1,814.8 950.6,814.2 953.3,819.4 957,823.9 957.9,833.9" fill="none"/>
<path d="M876.2,609.3 881.7,613.9 894.6,615.3 900.1,611.1 909.3,606.9 918.4,605 929.4,603.8 940.5,602.5 949.6,603.2 956.1,601 960.6,603.8 963.4,613.9 959.7,617.5 958.8,623 966.1,627.6 975.3,630.4 982.7,631.3 987.2,635.9 993.7,639.5 1001,642.3 1007.4,646 1011.1,644.1 1012,635.9 1017.5,631.3 1023,630.7 1030.4,634 1037.7,638.6 1050.6,640.5 1059.7,642.3 1070.7,639.5 1079.9,641.4 1087.2,640.5" fill="none"/>
<path d="M1085.4,662.5 1088.2,670.7 1094.6,681.7 1100.1,692.8 1105.6,701.9 1108.3,711.1 1111.1,720.3 1115.7,728.5 1120.3,736.8 1123.9,746 1131.3,753.3 1138.6,759.7 1143.2,763.4 1147.8,771.7 1150.4,775.3" fill="none"/>
<path d="M894.6,615.3 896.4,625.8 899.2,633.1 890.9,635.9 883.6,639.5 878.1,645 870.7,648.7 863.4,652.4 857.9,657.9 857,667.1" fill="none"/>
<path d="M857,667.1 856.1,675.3 839.5,675.3 838.6,683.6 834,692.8 831.3,696.4 830.4,705.2 809.3,705.6" fill="none"/>
<path d="M857,667.1 843.2,669.8 838.6,675.3" fill="none"/>
<path d="M857,667.1 876.2,680.8 900.1,698.3 914.8,712 922.1,720.3 935,716.6 942.3,709.3 955.1,700.1 968.9,691.8" fill="none"/>
<path d="M876.2,680.8 868,681.7 868.9,692.8 870.7,718.4 872.6,743.2 839.5,744.1 835.9,747.8" fill="none"/>
<path d="M949.6,603.2 950.6,612 946,623 949.6,630.4 954.2,637.7 956.1,645 958.8,637.7 966.1,633.1 966.1,627.6" fill="none"/>
<path d="M956.1,645 957.9,663.4 956.1,674.4 960.6,684.5 968.9,691.8 981.7,696.4 985.4,694.6 990.9,691.8 1035,716.6" fill="none"/>
<path d="M1037.7,638.6 1039.5,663.4 1040.5,701 1040.8,713.9 1035,716.6" fill="none"/>
<path d="M1040.5,701 1105.6,701.4" fill="none"/>
<path d="M985.4,695.5 987.2,703.8 990.4,711.1 989.1,733.1 982.7,742.3 977.2,752.4 979,757" fill="none"/>
<path d="M922.1,720.3 926.7,720.3 926.1,735 923.9,744.1 903.8,747.8" fill="none"/>
<path d="M922.1,766.1 925.8,757 933.1,754.2 942.3,758.8 955.1,760.6 966.1,757.9 977.2,756.6" fill="none"/>
<path d="M903.8,747.8 907.4,757.9 914.8,764.3 922.1,766.1" fill="none"/>
<path d="M1035,716.6 1035.9,741.4 1030.4,743.2 1028.5,753.3 1025.8,761.6 1028.5,772.6" fill="none"/>
<path d="M1028.5,772.6 1017.5,782.7 1008.3,788.2 999.2,792.8 989.1,795.5" fill="none"/>
<path d="M979,757 983.6,764.3 986.3,771.7 989.1,779 981.7,781.7 986.3,789.1 989.1,795.5" fill="none"/>
<path d="M981.7,766.1 977.2,777.2 971.7,790 968,799.2 960.6,799.2 955.1,804.7 950.6,814.2" fill="none"/>
<path d="M922.1,766.1 923,775.3 918.4,786.3 917.5,802.8" fill="none"/>
<path d="M907.4,773.5 910.2,788.2 911.1,803.8" fill="none"/>
<path d="M901.9,772.6 904.7,782.7 905.6,791.8 907.4,806.5" fill="none"/>
<path d="M887.2,773.5 901.9,772.6 907.4,773.5 914.8,764.3" fill="none"/>
<path d="M887.2,773.5 888.2,788.2 884.5,799.2 885.4,811.1" fill="none"/>
<path d="M858.8,778.1 865.2,776.2 870.7,778.1 876.2,780.8 887.2,780.8" fill="none"/>
<path d="M903.8,747.8 896.4,747.8 889.1,751.5 879.9,758.8 877.2,764.3 872.6,768 870.7,778.1" fill="none"/>
<path d="M835.9,747.8 838.6,758.8 843.2,766.1 852.4,764.3 856.1,773.5 858.8,778.1" fill="none"/>
<path d="M813.9,736.8 821.2,736.8 828.5,741.4 835.9,747.8" fill="none"/>
<path d="M809.3,756.1 815.7,755.7 815.7,757.9 809.3,758.8Z" fill="#ffffff"/>
<path d="M808.3,763.4 824.9,762.5 838.6,763.4" fill="none"/>
<path d="M824.9,762.5 823.9,768 817.5,768.9" fill="none"/>
<path d="M829.4,784.5 834,780.8 839.5,780.8 844.1,790 838.6,799.2" fill="none"/>
<path d="M844.1,790 848.7,791.8 852.4,797.3 855.1,802.8 859.7,808.3 859.7,816.1" fill="none"/>
<path d="M856.1,773.5 857.9,784.5 856.1,793.7 852.4,797.3" fill="none"/>
<path d="M989.1,795.5 984.5,804.7 985.4,815.7 990,823 992.8,828.5" fill="none"/>
<path d="M1004.7,821.2 1010.2,812.9 1021.2,815.7 1034,812.9 1043.2,811.1 1054.2,810.2 1065.2,816.6 1074.4,821.2" fill="none"/>
<path d="M1028.5,772.6 1034,784.5 1038.6,788.2 1046.9,801 1054.2,809.3" fill="none"/>
<path d="M1038.6,788.2 1043.2,779 1050.6,781.7 1057.9,781.7 1058.8,779 1064.3,779 1064.3,782.7 1070.7,779 1078.1,777.2 1083.6,770.7 1087.2,766.1 1088.2,773.5 1092.8,779 1091.8,788.2 1087.2,792.8" fill="none"/>
<path d="M1115.7,728.5 1110.2,733.1 1107.4,742.3 1105.6,751.5 1104.7,760.6 1098.3,768 1095.5,775.3 1092.8,779" fill="none"/>
<path d="M1105.6,751.5 1112.9,748.7 1120.3,750.6 1129.4,755.1 1136.8,762.5 1142.3,768.9" fill="none"/>
<path d="M1142.3,763.4 1136.8,768.9 1137.7,773.5 1143.2,772.6" fill="none"/>
<path d="M1087.2,792.8 1092.8,799.2 1098.3,806.5 1100.1,810.2 1094.6,814.8 1092.8,820.3" fill="none"/>
<path d="M1074.4,821.2 1081.7,820.3 1087.2,819.4 1092.8,820.3" fill="none"/>
<path d="M1100.1,810.2 1109.3,815.7 1118.4,819.4 1125.8,821.2 1133.1,817.5 1142.3,816.6 1150.4,812.9" fill="none"/>
<path d="M957.8,833.9 956,841.2 951.4,848.5 955,857.7 962.4,866 967.9,873.3 970.6,881.6 973.4,890.7 977.1,898.1 975.2,903.6 978,910.9 979.8,918.3 977.1,925.6 972.5,932.9 969.7,942.1 967.9,949.4 967.9,958.6 971.6,967.8 976.1,977 980.7,986.1 983.5,993.5 982.6,1002.7 985.3,1011.8 987.2,1022.8 991.7,1030.2 994.5,1029.3" fill="none"/>
<path d="M1175.2,810 1169.7,819.2 1162.4,826.5 1155,833.9 1145.9,843 1138.5,851.3 1133,857.7 1127.5,865 1122.9,874.2 1121.1,881.6 1122.9,890.7 1122.9,901.7 1127.5,910 1129.4,920.1 1129.4,938.4 1126.6,945.8 1120.2,953.1 1111,959.5 1103.7,966.9 1096.3,975.1 1094.5,978.8 1097.2,986.1 1098.2,995.3 1094.5,1004.5 1087.2,1010 1082.6,1013.7 1081.7,1019.2" fill="none"/>
<path d="M1175.2,925.6 1179.8,926 1182.6,936.6 1183.5,943.9 1179.8,951.3 1177.1,960.5 1173.4,971.5 1168.8,986.1 1164.2,1000.8 1158.7,1008.2 1151.4,1010.9 1145.9,1008.2 1142.6,1000.8 1141.3,989.8 1144,980.6 1147.7,973.3 1146.8,962.3 1149.5,951.3 1160.6,946.7 1167.9,940.3 1172.5,932.9Z" fill="#ffffff"/>
<path d="M994.2,1030.6 995.8,1027.8 998.1,1031.7 1005.9,1033.4 1012.1,1030.6 1012.6,1005.9 1016,1012.6 1017.1,1019.4 1021.6,1019.4 1026.1,1014.9 1030,1009.8 1033.9,1011.5 1038.4,1012.6 1042.9,1011 1045.1,1005.9 1049.6,1003.1 1052.4,998.6 1057.5,993.6 1064.7,989.7 1074.8,990.2 1077.1,998.1 1078.2,1005.9 1077.1,1012.6 1074.8,1013.8 1072.6,1017.7 1074.3,1021.1 1077.6,1022.2 1078.7,1019.4 1081.5,1019.4 1081.5,1025 1079.3,1031.7 1074.3,1037.3 1069.8,1044 1063.1,1051.9 1055.2,1058.6 1047.4,1063.6 1038.4,1067 1029.5,1066.4 1022.7,1067.5 1018.3,1069.2 1013.8,1069.8 1009.3,1071.5 1005.4,1067.5 1002.6,1062.5 1000.9,1059.1 1002.6,1056.3 1001.4,1050.7 998.6,1042.9 996.4,1036.2Z" fill="#3ff79c"/>
<path d="M1050.5,1037.9 1054.1,1033.4 1058.6,1031.1 1061.9,1035.1 1060.3,1040.1 1055.2,1044 1051.9,1041.8Z" fill="#ffffff"/>
<path d="M1072.6,1017.7 1074.8,1013.8 1077.1,1012.6 1078.7,1019.4 1077.6,1022.2 1074.3,1021.1Z" fill="#ffffff"/>
<path d="M967.9,956.8 973.4,955.9 982.6,956.8 1002.8,957.7 1019.3,961.9 1032.1,959.5 1042.2,959.5 1052.3,961.4 1057.8,955 1065.1,947.6 1070.6,945.8" fill="none"/>
<path d="M1019.3,961.9 1018.3,987.1 1013.4,987.6 1012.8,1008.2 1013.8,1008.2" fill="none"/>
<path d="M1042.2,960.5 1046.8,969.6 1055,978.8 1057.8,985.2 1064.2,988.9" fill="none"/>
<path d="M1070.6,945.8 1081.7,949.4 1085.3,955 1085.3,971.5 1081.7,982.5 1075.2,990.7" fill="none"/>
<path d="M1025.7,929.3 1025.7,951.3 1032.1,959.5" fill="none"/>
<path d="M971.6,883.4 984.4,882.5 994.5,883.4 1000,895.3 1011,895.9 1011.9,890.7 1017.4,889.8 1024.8,891.7 1025.7,905.4 1028.4,915.5 1035.8,916.4 1035.8,927.4 1025.7,929.3" fill="none"/>
<path d="M970.6,876.1 973.4,875.1 971.6,881.6" fill="none"/>
<path d="M1035.8,916.4 1043.1,920.1 1054.1,922.8 1061.5,924.7 1064.2,931.1 1067.9,931.1 1068.8,923.8 1062.4,918.3 1062.4,905.4 1065.1,899.9 1073.4,899" fill="none"/>
<path d="M1073.4,899 1083.5,903.6 1087.2,906.3 1089,914.6 1087.2,925.6 1085.3,932 1086.2,936.6 1070.6,942.1 1070.6,945.8" fill="none"/>
<path d="M1087.2,906.3 1091.7,908.2 1092.7,920.1 1093.6,929.3 1098.2,936.6 1101.8,941.2 1100.9,949.4 1097.2,952.2 1093.6,949.4 1094.5,942.1 1089.9,938.4 1086.2,936.6" fill="none"/>
<path d="M1091.7,908.2 1094.5,910 1095.4,920.1 1096.3,934.8" fill="none"/>
<path d="M1097.2,920.1 1111,920.1 1120.2,916.4 1128.4,913.7" fill="none"/>
<path d="M1092.7,852.2 1101.8,857.7 1112.8,865 1118.3,871.5 1122.9,874.2" fill="none"/>
<path d="M1080.7,846.7 1085.3,843.4 1092.7,843 1094.5,848.5 1091.7,855 1086.2,860.5 1080.7,858.6Z" fill="#ffffff"/>
<path d="M1094.5,819.2 1097.2,826.5 1098.2,833.9 1094.5,843" fill="none"/>
<path d="M1076.1,821.9 1075.2,830.2 1078,832 1071.6,838.4 1068.8,846.7 1068.8,854 1080.7,851.3" fill="none"/>
<path d="M1068.8,854 1075.2,853.1 1075.2,859.5 1072.5,862.3 1065.1,862.3 1064.2,859.5 1068.8,854" fill="none"/>
<path d="M1065.1,862.3 1073.4,863.2 1072.5,868.7 1068.8,873.3 1066.1,868.7" fill="none"/>
<path d="M1066.1,862.3 1067,873.3 1067.9,883.4 1071.6,892.6 1073.4,899" fill="none"/>
<path d="M1133,818.8 1132.7,854" fill="none"/>
<path d="M971.6,881.6 980.7,872.4 983.5,875.1 991.7,868.7 993.6,854 999.1,848.5 1002.8,837.5 1004.6,821.9 995.4,821 991.7,828.3" fill="none"/>
<path d="M956.9,830.2 965.1,830.2 965.1,837.5 956.9,837.9" fill="none"/>
<path d="M965.1,830.2 976.1,830.2 977.1,834.8 982.6,835.7 981.7,843.9 983.5,848.5 981.7,858.6 968.8,860.5 967,865 970.6,868.7" fill="none"/>
<path d="M976.1,830.2 991.7,832 995.4,821" fill="none"/>
<path d="M1150,776.4 1156.2,774.7 1162.9,773.6 1169.6,771.4 1176.3,770.8 1181.9,769.1 1185.9,766.7 1188.4,767.4 1188.1,774.7 1187,783.7 1184.2,789.3 1181.4,794.9 1178.6,801.1 1176.3,807.2 1175.2,810" fill="none"/>
<path d="M1150.3,812.9 1155.1,811.7 1162.9,802.7 1170.7,792.6 1164,792.1 1156.2,789.3 1148.3,785.9 1143.9,781.4 1140.5,775.8 1141.1,773" fill="none"/>
<path d="M1175.8,771.4 1176.3,778.1 1175.2,784.8 1170.7,792.6" fill="none"/>
<!-- 09_mideast.txt -->
<path d="M1104.3,639.4 1110.4,636.4 1118,636.4 1125.7,641 1133.3,645.5 1142.5,650.9 1151.6,653.9 1157.8,655.5 1165.4,658.5 1170,665.4 1173.8,672.3 1177.6,679.1 1182.2,683.7 1186.8,688.3 1191.4,692.9 1199,695.9 1205.1,696.7 1208.2,702.1 1207.4,708.2 1205.1,714.3 1197.5,718.1 1189.8,721.9 1180.7,723.4 1173,725.7 1167.7,729.6 1163.9,733.4 1159.3,731.8 1151.6,730.3 1143.2,731.1 1141,736.4 1137.9,731.1 1133.3,724.2 1128.7,715.8 1124.2,711.2 1120.3,705.1 1118,699 1115.8,692.9 1111.9,688.3 1105.8,680.7 1101.2,673 1097.4,665.4 1092.8,657.8 1093.6,654.7 1099.7,650.9 1105.8,647.8 1107.4,644.8Z" fill="#3ff79c"/>
<path d="M1042.8,582.7 1047.4,578.9 1058,577.4 1064.2,575.9 1070.3,572.8 1076.4,570.5 1082.5,570.5 1088.6,572.1 1094.7,574.3 1100.8,576.6 1106.9,577.4 1114.6,576.6 1122.2,574.3 1128.3,574.3 1131.4,576.6 1132.9,581.2 1135.9,586.6 1138.2,593.4 1139,601.1 1131.4,601.8 1125.3,603.4 1117.6,604.1 1110,604.9 1103.9,605.7 1097.8,605.7 1095.5,610.2 1093.2,605.7 1088.6,604.9 1082.5,608 1076.4,608.7 1070.3,605.7 1064.2,608 1058,605.7 1051.9,601.1 1047.4,596.5 1045.8,590.4 1043.5,586.6Z" fill="#3ff79c"/>
<path d="M1042.8,575.1 1045.8,571.3 1050.4,570.5 1054.2,576.6 1048.9,578.2 1044.3,578.2Z" fill="#3ff79c"/>
<path d="M1175.7,565.9 1171.1,561.4 1167.3,556.8 1165.7,552.2 1168,549.1 1172.6,547.6 1175.7,543 1174.1,539.2 1168,538.5 1161.9,539.2 1155.8,542.3 1154.3,542.3" fill="none"/>
<path d="M1181.8,569 1192.5,574.3 1194.8,575.1" fill="none"/>
<path d="M1273.9,637.6 1265.5,640.7 1262.5,642.2 1260.2,648.3 1250.3,652.1 1241.1,652.9 1233.5,650.6" fill="none"/>
<path d="M1226.6,620.8 1228.9,630 1231.9,640.7 1234.2,645.3 1233.5,650.6 1239.6,657.5 1244.2,665.1 1246.4,669.7 1241.9,672 1239.6,680.4" fill="none"/>
<path d="M1239.6,680.4 1250.3,679.6 1261,678.9 1265.5,678.1 1270.1,685 1274.7,689.6 1277.8,688" fill="none"/>
<path d="M1165.4,658.5 1173,647.8 1162.3,649.4 1157.8,650.1 1156.2,654.7" fill="none"/>
<path d="M1157.8,650.1 1157.8,655.5" fill="none"/>
<path d="M1180.7,676.1 1183,675.3 1185.3,678.4 1184.5,683 1182.2,683.7" fill="none"/>
<path d="M1186.8,688.3 1197.5,686 1203.6,682.2 1208.9,676.1 1210.5,680.7 1212.7,683.7 1220.4,689.8 1228,694.4 1231.8,699.8 1226.5,708.9 1221.9,718.9 1215.8,725 1208.9,729.6 1206.6,733.4 1197.5,735.7 1191.4,739.5 1182.2,744.8 1173,750.9 1163.9,754.8 1154.7,758.6 1148.6,761.6 1144,763" fill="none"/>
<path d="M1210.5,680.7 1207.4,686.8 1205.1,696.7" fill="none"/>
<path d="M1189.8,721.9 1196.7,735.7" fill="none"/>
<path d="M1141,736.4 1144,763" fill="none"/>
<path d="M1139.4,601.2 1142.5,605.8 1148.6,615 1146.3,621.1 1150.1,625.7 1157.8,633.3 1160.8,641 1163.9,648.6 1173,647.8 1177.6,654.7 1182.2,660.8 1189.8,666.2 1197.5,670 1203.6,670.7 1210.5,667.7 1213.5,671.5 1215.8,676.1 1225,678.4 1239.5,679.9" fill="none"/>
<path d="M1139.4,601.2 1138.7,593.6 1136.4,586.7" fill="none"/>
<path d="M1087.8,640.4 1089.9,636.9 1090.9,632.8 1091.9,627.7 1094.5,622.6 1095.5,620" fill="none"/>
<path d="M1087.8,640.4 1090.4,646.6 1092.4,652.7 1091.4,657.8 1090.9,661.2 1085.3,662.4" fill="none"/>
<path d="M1098.6,620 1099.6,621.3 1097,625.1 1095.5,628.7 1095,635.3 1094,644.5 1092.9,650.7 1092.4,652.7" fill="none"/>
<path d="M1091.9,633.8 1094.5,632.8 1094,638.4 1092.2,637.9 1091.9,633.8" fill="none"/>
<path d="M1095.5,631 1101.6,633.8 1111.3,626.9 1113.7,635.1" fill="none"/>
<path d="M1111.3,626.9 1121.6,620" fill="none"/>
<path d="M1095.4,610.4 1094.3,612.9 1095.7,618.6 1094.3,622.9 1092.9,627.9" fill="none"/>
<path d="M1095.7,618.6 1098.9,621.1 1097.1,626.4 1095,627.1" fill="none"/>
<path d="M1125.7,602.1 1124.3,606.4 1122.9,618.6 1111.4,627.1" fill="none"/>
<path d="M1010.7,585 1012.9,581.4 1013.6,577.1 1017.1,576.8 1024.3,574.6 1030,573.6 1035.7,573.9 1040,575 1042.9,573.9 1042.1,577.9 1040,578.9 1033.6,577.5 1031.4,578.9 1028.9,581.8 1023.6,580.7 1025.7,584.3 1027.5,588.6 1028.9,592.1 1031.4,594.6 1028.6,596.4 1027.9,598.9 1027.5,604.3 1023.6,603.2 1019.3,602.5 1018.6,600 1016.4,595.7 1014.3,589.3Z" fill="#ffffff"/>
<path d="M1077.5,616.4 1079.3,614.3 1082.9,613.2 1086.8,612.5 1084.3,615 1082.1,617.1 1079.3,618.6Z" fill="#ffffff"/>
<path d="M1194.2,574.9 1191.1,551.5 1203,548 1203.4,545.4 1209.5,544.2 1211.4,556.1 1216.8,555.3 1223.7,560.7 1229.1,559.9 1237.5,559.5 1244.4,563.8 1246,569.1 1249,571 1251.3,575.6 1256.7,575.3 1259.8,579.5 1262.1,575.6 1268.2,571.8 1271.3,566.4 1274.3,565.3 1282,566.4 1283.5,563.4 1286.2,562.2 1291.2,564.5 1302.7,564.9 1311.9,565.3 1318,568" fill="none"/>
<path d="M1203,548 1204.2,547.3 1207.2,550 1208.8,553.8 1211.4,556.1" fill="none"/>
<path d="M1194.2,574.9 1200.3,574.9 1200.7,570.7 1206.8,565.3 1214.5,570.3 1217.6,574.5 1226,576.8 1230.6,583.3 1237.5,587.9 1247.5,593.7 1253.6,596.3 1254,600.6" fill="none"/>
<path d="M1188.8,601 1193.8,597.1 1200.7,594.4 1203.8,594.4 1206.8,596.3 1215.3,599.4 1222.9,605.2 1226.8,605.6 1228.7,612.5 1235.2,614.4 1239,609.8 1245.2,606.7 1246,602.5 1250.6,599.4 1254,600.6 1261.3,601.3" fill="none"/>
<path d="M1228.7,612.5 1228.3,617.1 1226.5,620.8" fill="none"/>
<path d="M1259.8,579.5 1263.6,574.9 1268.2,571.8 1269.3,573.7 1275.1,576.4 1276.6,574.5 1281.6,577.6 1278.9,581.9 1274.3,581.4 1271.3,577.6 1266.7,578.7 1262.4,581 1261.7,585.6 1257.5,586 1256.7,588.3 1260.9,592.1 1262.8,596.7 1261.3,601.3" fill="none"/>
<path d="M1278.9,581.9 1268.2,583.3 1267.8,586 1277,586 1280.5,587.5 1289.7,587.1" fill="none"/>
<path d="M1261.3,601.3 1262.8,602.9 1275.9,593.7 1279.3,596.3 1280.5,601.3 1283.1,604.4 1290.4,600.2 1298.1,601" fill="none"/>
<path d="M1298.1,601 1292.7,602.9 1290.4,602.5 1285.8,604 1282,607.1 1280.5,609.8 1282.8,611.7 1283.5,616.3 1281.2,617.8 1280.5,621.7 1276.2,623.6 1278.9,624.7 1277.4,627 1275.5,629.3 1273.9,637.6" fill="none"/>
<path d="M1287.4,606.7 1289.7,604.4 1298.1,603.6 1304.2,607.1 1310.4,611.7 1313.4,614" fill="none"/>
<path d="M1287.4,606.7 1295,614.8 1297.3,618.6" fill="none"/>
<path d="M1295,618.6 1296.9,618.2 1300.8,628.9 1298.9,629.7 1295,618.6" fill="none"/>
<path d="M1305.8,633.5 1310.4,631.6 1313.4,628.2 1315.7,629.3 1320.3,630.1 1325.7,633.5" fill="none"/>
<path d="M1110.2,560.3 1115.8,563.9 1119.9,567.5 1121.2,570.6 1120.4,572.6 1121.5,573.4" fill="none"/>
<path d="M1111.5,560.8 1119.9,565.4 1122,566.5 1122.5,562.9" fill="none"/>
<path d="M1130.7,565.4 1130.4,569 1131.7,570.1 1133.5,569 1134,566.7" fill="none"/>
<path d="M1121.5,573.4 1127.1,573.1 1130.7,575.9 1135.3,575.2 1138.9,574.4 1140.9,574.1 1143.5,575.2 1146.3,576.2 1146.8,573.4 1144.7,571.6" fill="none"/>
<path d="M1131.2,576.2 1132.2,579.3 1133.2,582.3 1135.8,584.4 1137.8,585.4 1141.9,587.9 1144,590 1147,591 1149.1,589.5 1151.6,586.4 1150.1,583.9 1148.1,580.3 1144.5,581.8 1143.5,580.3 1140.9,575.7 1138.9,574.4" fill="none"/>
<path d="M1137.8,585.4 1138.9,587.4 1143.5,590 1146,591.3" fill="none"/>
<path d="M1151.6,586.4 1155.7,585.9 1157.8,590 1159.8,594.1 1161.3,593.6" fill="none"/>
<path d="M1156,571.6 1160.3,576.2 1164.2,579.8 1163.4,583.9 1161.9,588.5 1161.3,593.6 1162.9,598.2 1169,601.2 1174.1,604.8 1179.2,605.3 1183.8,604.6 1189.5,603.3 1189.2,601.2 1188.4,596.1 1186.9,590 1182.8,587.4 1183.8,585.9 1179.8,581.3 1180.3,579.8 1184.4,578.7 1189.5,577.2 1188.4,574.7 1186.9,571.6 1183.8,569 1179.8,570.1 1177.2,571.6 1176.2,565.4" fill="none"/>
<!-- 10_eeurope.txt -->
<path d="M1010.9,481 1010.5,476.4 1012.8,472.8 1016.9,471.8 1019.6,473.7 1022.8,476 1025.6,473.7 1025.1,470" fill="none"/>
<path d="M1025.6,473.7 1029.7,471.8 1033.4,473.2 1038,473.7 1040.7,473.7" fill="none"/>
<path d="M1010.9,481 1016.9,479.2 1024.2,479.6 1029.7,480.6 1036.1,483.8 1043,482.8" fill="none"/>
<path d="M1010.9,481 1011.4,486.1 1005.9,489.7" fill="none"/>
<path d="M1018.7,492 1024.2,494.3" fill="none"/>
<path d="M1036.1,483.8 1034.3,489.3 1031.6,492.9 1027.9,494.3 1024.2,494.3 1025.6,502.1 1025.1,507.6" fill="none"/>
<path d="M1025.1,507.6 1031.6,507.2 1038,508.1 1045.3,509.9 1052.7,510.8 1057.2,509.4 1060.9,506.7 1064.1,505.3" fill="none"/>
<path d="M1059.1,542.5 1061.8,541.1 1065.5,540.6 1068.7,540.2 1071,542.5 1075.1,544.3 1076.5,544.8 1072.4,548.4 1077,550.3 1078.8,554.9 1082,553 1086.6,550.7 1085.7,547.1 1083.9,543.4 1087.5,541.6 1092.1,539.7 1097.6,538.3 1099.9,537.4" fill="none"/>
<path d="M1025.1,507.6 1027.4,514 1023.3,520.5 1020.6,524.1 1019.6,528.7" fill="none"/>
<path d="M1019.6,528.7 1021.5,531.5 1026.1,532.4 1032.5,533.8 1038,532.4 1041.2,530.1 1046.2,529.2 1050.8,530.6 1053.6,533.3 1056.3,537.9 1058.6,541.6 1059.1,542.5" fill="none"/>
<path d="M1041.2,530.1 1044.4,534.2 1048.1,538.8 1050.4,543.4 1050.8,548 1052.7,546.1 1056.3,542.5 1059.1,542.5" fill="none"/>
<path d="M1050.8,548 1055.9,548.9 1057.2,546.1" fill="none"/>
<path d="M1055.9,549.1 1053.6,554.4 1052.2,558.5 1049.9,563.6 1048.1,567.2 1050.4,570.9" fill="none"/>
<path d="M1021.5,531.5 1018.7,536.1 1015,542.5 1010.5,544.3 1013.2,548.9 1016.9,553 1022.4,556.2 1027.9,558.5 1033.4,559.4 1038,559.4 1042.6,557.2 1046.2,556.2 1052.2,558.5" fill="none"/>
<path d="M1043.5,572.8 1038.9,574.6 1033.4,574.1 1029.7,573.2 1024.2,574.6" fill="none"/>
<path d="M1022.4,556.2 1021,561.7 1021.5,567.2 1024.2,570.9 1024.2,574.6" fill="none"/>
<path d="M1113.2,561.7 1117.8,565.4 1120.6,569.1 1121.5,571.8 1120.6,574.6" fill="none"/>
<path d="M994.4,528.7 998.5,525 1004,523.2 1009.5,523.7 1015,524.1 1019.6,524.6" fill="none"/>
<path d="M994.4,528.7 994.9,532.4 1000.4,533.3 1002.2,531 1007.7,529.6 1010.5,528.3 1015,529.2 1019.6,529.6 1021.5,531.5" fill="none"/>
<path d="M991.2,537.9 993,533.3 994.4,528.7" fill="none"/>
<path d="M989.8,540.6 994.9,543.4 999.4,545.7 1004,545.2 1010.5,544.3" fill="none"/>
<path d="M976.1,543.4 980.2,542.5 984.8,543.4 989.8,540.6" fill="none"/>
<path d="M984.8,543.4 985.7,548 988.4,550.7 992.1,549.4 1003.1,550.7 1004,545.2" fill="none"/>
<path d="M988.4,550.7 987.5,554.4 991.2,558.1 996.7,562.7 1000.4,566.3 1002.2,567.2 1004,563.6 1005.9,558.1 1005,552.6 1003.1,550.7" fill="none"/>
<path d="M971.5,548.9 973.8,547.1 978.3,548.4 982,550.7 983.9,555.3 988.4,559 993.9,562.7 998.5,566.3 1002.2,569.1 1005.9,571.8 1006.8,578.3 1007.7,583.8 1010.5,585.6" fill="none"/>
<path d="M971,549.8 971.5,554.4 973.8,552.6" fill="none"/>
<path d="M1005.9,558.1 1008.6,560.8 1006.8,564.5 1010,566.8 1013.2,564.5 1015,563.6 1017.3,565.4 1018.3,568.6 1021.5,567.2" fill="none"/>
<path d="M1002.2,567.2 1004,570.9 1006.8,569.1 1007.7,566.3 1006.8,564.5" fill="none"/>
<path d="M1010,566.8 1011.4,570.5 1014.1,570.9 1017.3,569.1 1018.3,568.6" fill="none"/>
<path d="M1011.4,570.5 1013.2,573.7 1014.1,577.8 1013.2,581.9 1010.5,585.6" fill="none"/>
<path d="M1014.1,570.9 1015,573.7 1014.1,577.8 1018.7,576.4 1024.2,574.6" fill="none"/>
<!-- 11_misc.txt -->
<path d="M44.4,712.2 47.7,714.4 48.8,717.1 44.7,719.6 42.2,720.8 42.4,716.2Z" fill="#ffc200"/>
<path d="M1796.2,904.8 1801.1,906.3 1801.4,909.6 1796.5,908.7Z" fill="#ffffff"/>
<path d="M1738,908.1 1745.1,911.4 1744.1,914 1738,911.7Z" fill="#ffffff"/>
<path d="M1884.4,961.8 1887.1,958.3 1891.2,957.3 1891.7,962.3 1888.2,963.7Z" fill="#ffffff"/>
<path d="M1894.6,952.2 1901.4,949.4 1901.4,953.2 1895.8,954.7Z" fill="#ffffff"/>
</g>
<!--/MAP-->
</svg>
<div class="t" id="src">Source: Bloomberg</div>
</body></html>
